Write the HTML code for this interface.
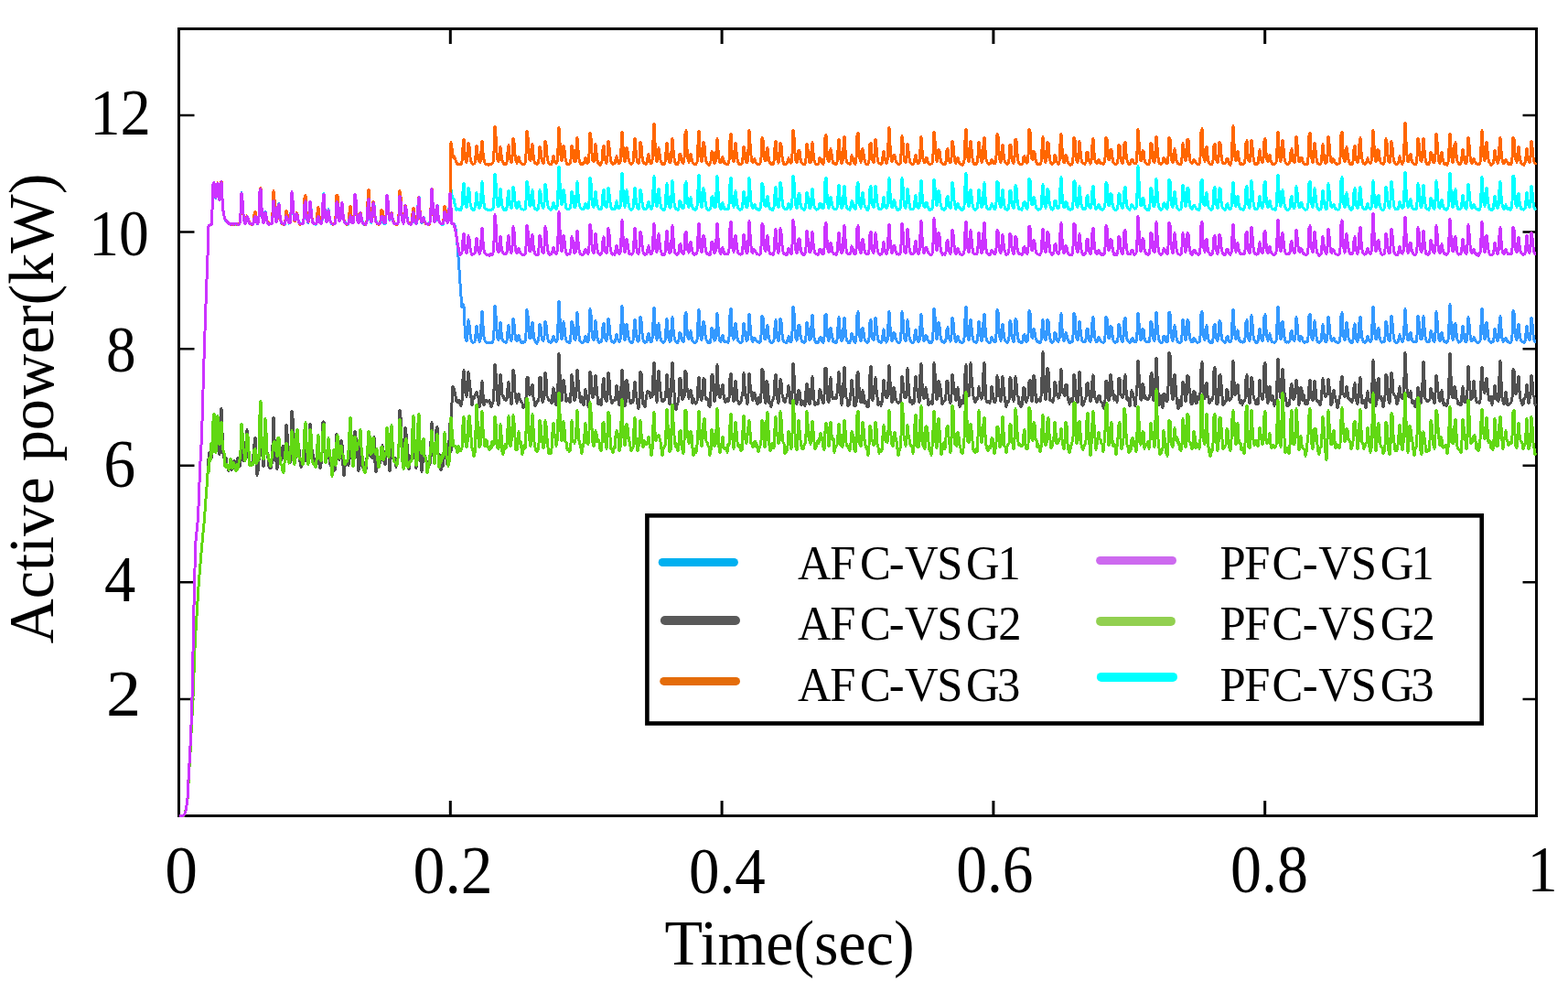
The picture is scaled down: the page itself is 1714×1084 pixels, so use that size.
<!DOCTYPE html>
<html><head><meta charset="utf-8"><style>html,body{margin:0;padding:0;background:#fff;overflow:hidden}svg{display:block}</style></head>
<body><svg width="1714" height="1084" viewBox="0 0 1714 1084">
<rect width="100%" height="100%" fill="#fff"/>
<rect x="195.5" y="31.5" width="1484.0" height="860.0" fill="none" stroke="#000" stroke-width="3"/>
<path d="M195.5 763.92H212.5M1679.5 763.92H1664.5M195.5 636.34H212.5M1679.5 636.34H1664.5M195.5 508.76H212.5M1679.5 508.76H1664.5M195.5 381.18H212.5M1679.5 381.18H1664.5M195.5 253.60H212.5M1679.5 253.60H1664.5M195.5 126.02H212.5M1679.5 126.02H1664.5" stroke="#000" stroke-width="2.5" fill="none"/>
<path d="M492.3 31.5V48.0M492.3 891.5V875.0M789.1 31.5V48.0M789.1 891.5V875.0M1085.9 31.5V48.0M1085.9 891.5V875.0M1382.7 31.5V48.0M1382.7 891.5V875.0" stroke="#000" stroke-width="3" fill="none"/>
<polyline fill="none" stroke="#3399ff" stroke-width="3" stroke-linejoin="round" shape-rendering="crispEdges" points="195.5,891.5 196.0,891.5 196.5,891.5 197.0,891.5 197.5,891.5 198.0,891.5 198.5,891.5 199.0,891.5 199.5,891.5 200.0,891.5 200.5,891.1 201.0,890.7 201.5,890.2 202.0,889.0 202.5,887.7 203.0,885.9 203.5,883.7 204.0,879.7 204.5,875.7 205.0,871.8 205.5,862.2 206.0,852.6 206.5,843.4 207.0,834.5 207.5,825.6 208.0,815.3 208.5,804.0 209.0,792.2 209.5,779.8 210.0,762.3 210.5,737.2 211.0,712.1 211.5,686.9 212.0,661.8 212.5,636.7 213.0,620.8 213.5,604.8 214.0,591.1 214.5,586.2 215.0,581.3 215.5,576.4 216.0,571.5 216.5,566.6 217.0,553.6 217.5,540.6 218.0,527.5 218.5,514.5 219.0,504.0 219.5,495.1 220.0,486.3 220.5,477.4 221.0,460.4 221.5,443.3 222.0,426.2 222.5,409.2 223.0,392.1 223.5,376.1 224.0,361.6 224.5,347.1 225.0,332.6 225.5,318.2 226.0,305.4 226.5,292.7 227.0,279.9 227.5,263.4 228.0,246.8 228.5,246.5 229.0,246.2 229.5,245.9 230.0,245.7 230.5,245.4 231.0,245.1 231.5,244.9 232.0,229.8 233.0,201.4 234.0,199.7 235.0,212.4 236.0,216.5 237.0,204.3 238.0,200.4 239.0,213.4 240.0,219.0 241.0,208.1 242.0,198.4 243.0,217.0 244.0,229.7 245.0,235.8 246.0,239.9 247.0,241.2 248.0,242.0 249.0,242.9 250.0,243.5 251.0,244.8 252.0,245.1 253.0,244.8 254.0,244.4 255.0,244.4 256.0,245.3 257.0,245.0 258.0,245.2 259.0,244.6 260.0,244.7 261.0,245.0 262.0,244.2 263.0,233.7 264.0,210.8 265.0,220.2 266.0,234.7 267.0,241.6 268.0,243.8 269.0,241.8 270.0,236.9 271.0,238.9 272.0,243.2 273.0,244.1 274.0,244.3 275.0,245.7 276.0,245.1 277.0,243.3 278.0,238.6 279.0,237.6 280.0,240.6 281.0,244.1 282.0,243.6 283.0,237.3 284.0,209.3 285.0,205.9 286.0,227.2 287.0,238.6 288.0,242.6 289.0,239.7 290.0,231.6 291.0,236.1 292.0,241.4 293.0,243.8 294.0,244.7 295.0,244.9 296.0,244.6 297.0,244.0 298.0,236.5 299.0,219.1 300.0,226.2 301.0,237.0 302.0,241.9 303.0,240.4 304.0,225.1 305.0,222.7 306.0,235.5 307.0,241.1 308.0,244.4 309.0,244.5 310.0,245.3 311.0,244.9 312.0,242.1 313.0,236.0 314.0,237.7 315.0,241.8 316.0,243.6 317.0,243.7 318.0,232.8 319.0,209.8 320.0,219.1 321.0,234.7 322.0,241.1 323.0,240.9 324.0,233.3 325.0,233.8 326.0,239.9 327.0,243.4 328.0,244.2 329.0,244.7 330.0,244.8 331.0,244.8 332.0,240.2 333.0,222.4 334.0,219.8 335.0,232.8 336.0,241.2 337.0,243.4 338.0,235.6 339.0,220.9 340.0,228.9 341.0,238.3 342.0,243.2 343.0,244.1 344.0,244.5 345.0,244.2 346.0,243.2 347.0,238.5 348.0,235.2 349.0,240.7 350.0,243.2 351.0,244.2 352.0,240.9 353.0,221.7 354.0,211.7 355.0,227.7 356.0,238.5 357.0,242.1 358.0,236.5 359.0,229.6 360.0,237.3 361.0,241.7 362.0,243.8 363.0,244.6 364.0,245.3 365.0,245.1 366.0,243.8 367.0,238.5 368.0,220.0 369.0,221.6 370.0,234.3 371.0,240.8 372.0,240.2 373.0,226.6 374.0,221.7 375.0,234.4 376.0,241.2 377.0,243.6 378.0,244.9 379.0,244.9 380.0,244.3 381.0,244.0 382.0,238.6 383.0,236.2 384.0,241.0 385.0,243.3 386.0,243.9 387.0,236.5 388.0,213.6 389.0,218.5 390.0,233.0 391.0,241.4 392.0,243.1 393.0,238.2 394.0,232.3 395.0,238.2 396.0,241.6 397.0,243.6 398.0,245.7 399.0,244.5 400.0,244.6 401.0,241.4 402.0,226.1 403.0,217.0 404.0,230.5 405.0,239.3 406.0,242.3 407.0,237.4 408.0,220.8 409.0,224.8 410.0,237.0 411.0,241.3 412.0,244.1 413.0,244.6 414.0,244.8 415.0,244.6 416.0,243.6 417.0,236.1 418.0,237.1 419.0,241.6 420.0,244.4 421.0,244.6 422.0,235.7 423.0,214.2 424.0,219.1 425.0,234.0 426.0,241.1 427.0,238.4 428.0,233.5 429.0,238.5 430.0,243.3 431.0,244.3 432.0,244.4 433.0,244.4 434.0,244.4 435.0,244.1 436.0,236.5 437.0,213.9 438.0,219.1 439.0,233.9 440.0,241.8 441.0,243.4 442.0,238.3 443.0,224.3 444.0,228.1 445.0,237.5 446.0,242.6 447.0,244.2 448.0,244.4 449.0,244.7 450.0,243.5 451.0,236.3 452.0,232.8 453.0,239.2 454.0,242.5 455.0,244.4 456.0,241.3 457.0,225.7 458.0,215.3 459.0,230.6 460.0,239.1 461.0,243.8 462.0,241.2 463.0,237.4 464.0,241.3 465.0,243.5 466.0,244.5 467.0,244.7 468.0,244.7 469.0,245.3 470.0,243.1 471.0,227.6 472.0,206.1 473.0,221.8 474.0,235.8 475.0,241.6 476.0,241.2 477.0,228.6 478.0,224.3 479.0,234.9 480.0,240.9 481.0,244.0 482.0,244.5 483.0,244.4 484.0,245.4 485.0,240.8 486.0,230.8 487.0,233.3 488.0,240.3 489.0,243.0 490.0,241.9 491.0,228.2 492.0,211.7 493.0,226.5 494.0,244.3 495.0,244.4 496.0,244.9 497.0,245.9 498.0,250.2 499.0,257.5 500.0,268.1 501.0,280.6 502.0,295.2 503.0,309.6 504.0,324.0 505.0,336.1 506.0,331.9 507.0,334.6 508.0,356.0 509.0,369.4 510.0,372.7 511.0,366.6 512.0,349.8 513.0,355.1 514.0,365.2 515.0,371.1 516.0,373.2 517.0,374.5 518.0,374.0 519.0,373.4 520.0,365.3 521.0,356.1 522.0,364.3 523.0,370.2 524.0,373.1 525.0,371.5 526.0,354.4 527.0,339.9 528.0,356.0 529.0,367.8 530.0,372.2 531.0,373.9 532.0,374.8 533.0,374.2 534.0,374.1 535.0,374.4 536.0,374.3 537.0,374.9 538.0,374.2 539.0,372.6 540.0,361.1 541.0,334.1 542.0,344.4 543.0,362.3 544.0,370.2 545.0,371.7 546.0,360.0 547.0,352.1 548.0,363.2 549.0,370.6 550.0,372.4 551.0,373.7 552.0,374.0 553.0,374.7 554.0,372.4 555.0,362.3 556.0,355.6 557.0,365.4 558.0,370.2 559.0,372.5 560.0,366.8 561.0,348.1 562.0,353.7 563.0,365.5 564.0,371.4 565.0,372.5 566.0,369.8 567.0,366.5 568.0,370.8 569.0,372.9 570.0,374.2 571.0,373.6 572.0,374.4 573.0,374.0 574.0,372.7 575.0,364.1 576.0,338.6 577.0,344.8 578.0,361.7 579.0,369.9 580.0,369.8 581.0,356.5 582.0,352.4 583.0,363.1 584.0,370.8 585.0,373.1 586.0,374.1 587.0,375.1 588.0,373.4 589.0,368.1 590.0,353.9 591.0,357.0 592.0,367.4 593.0,371.7 594.0,372.4 595.0,366.8 596.0,351.0 597.0,355.1 598.0,365.6 599.0,370.8 600.0,373.4 601.0,373.6 602.0,374.7 603.0,373.8 604.0,370.4 605.0,367.1 606.0,370.3 607.0,372.4 608.0,374.0 609.0,372.4 610.0,354.3 611.0,329.1 612.0,347.4 613.0,363.5 614.0,370.6 615.0,365.8 616.0,351.7 617.0,357.7 618.0,367.7 619.0,371.9 620.0,373.7 621.0,373.3 622.0,374.2 623.0,374.3 624.0,366.6 625.0,351.2 626.0,353.7 627.0,366.1 628.0,370.8 629.0,371.5 630.0,357.5 631.0,341.5 632.0,356.2 633.0,367.2 634.0,372.4 635.0,373.5 636.0,374.5 637.0,374.5 638.0,374.0 639.0,371.0 640.0,367.2 641.0,370.9 642.0,373.2 643.0,373.5 644.0,363.9 645.0,337.8 646.0,344.3 647.0,361.5 648.0,370.2 649.0,371.6 650.0,363.1 651.0,350.6 652.0,361.0 653.0,369.7 654.0,372.8 655.0,374.2 656.0,373.7 657.0,373.8 658.0,369.9 659.0,357.4 660.0,353.3 661.0,364.3 662.0,371.2 663.0,372.4 664.0,365.5 665.0,348.3 666.0,355.2 667.0,366.6 668.0,371.2 669.0,373.3 670.0,373.7 671.0,374.6 672.0,374.0 673.0,370.0 674.0,365.4 675.0,370.1 676.0,371.9 677.0,373.7 678.0,371.3 679.0,354.3 680.0,334.5 681.0,352.4 682.0,365.9 683.0,371.5 684.0,367.2 685.0,354.1 686.0,360.6 687.0,368.6 688.0,372.2 689.0,373.1 690.0,374.5 691.0,374.3 692.0,372.5 693.0,360.1 694.0,348.9 695.0,360.1 696.0,368.5 697.0,372.9 698.0,373.1 699.0,365.9 700.0,346.4 701.0,350.7 702.0,363.6 703.0,370.9 704.0,373.5 705.0,374.3 706.0,374.0 707.0,372.7 708.0,367.4 709.0,364.2 710.0,368.3 711.0,372.7 712.0,374.0 713.0,370.8 714.0,352.3 715.0,336.3 716.0,354.1 717.0,366.8 718.0,371.2 719.0,364.7 720.0,353.7 721.0,362.1 722.0,369.7 723.0,372.5 724.0,373.9 725.0,374.6 726.0,373.8 727.0,372.3 728.0,359.5 729.0,348.5 730.0,361.3 731.0,369.4 732.0,373.1 733.0,372.8 734.0,360.6 735.0,346.8 736.0,359.8 737.0,368.2 738.0,372.1 739.0,373.2 740.0,374.5 741.0,374.3 742.0,370.9 743.0,363.6 744.0,364.1 745.0,369.5 746.0,372.5 747.0,373.7 748.0,367.7 749.0,344.3 750.0,341.8 751.0,359.8 752.0,368.6 753.0,371.0 754.0,365.4 755.0,361.8 756.0,367.6 757.0,372.9 758.0,373.5 759.0,374.3 760.0,374.4 761.0,373.7 762.0,371.1 763.0,352.1 764.0,338.5 765.0,355.5 766.0,367.9 767.0,371.3 768.0,367.4 769.0,351.2 770.0,354.6 771.0,365.6 772.0,371.3 773.0,373.0 774.0,374.2 775.0,374.5 776.0,374.5 777.0,370.2 778.0,358.3 779.0,360.0 780.0,367.9 781.0,372.1 782.0,371.5 783.0,359.1 784.0,342.5 785.0,356.5 786.0,367.9 787.0,372.6 788.0,373.2 789.0,368.8 790.0,366.2 791.0,370.9 792.0,373.5 793.0,373.8 794.0,374.0 795.0,373.9 796.0,374.2 797.0,368.2 798.0,343.8 799.0,337.2 800.0,356.5 801.0,367.7 802.0,371.1 803.0,364.5 804.0,353.0 805.0,361.3 806.0,369.6 807.0,372.8 808.0,373.4 809.0,374.4 810.0,374.1 811.0,373.9 812.0,365.9 813.0,353.5 814.0,360.7 815.0,367.9 816.0,372.3 817.0,372.0 818.0,361.7 819.0,343.1 820.0,355.1 821.0,367.1 822.0,372.1 823.0,373.1 824.0,369.6 825.0,369.7 826.0,371.6 827.0,372.6 828.0,373.9 829.0,373.4 830.0,374.2 831.0,373.9 832.0,366.6 833.0,345.2 834.0,346.6 835.0,362.3 836.0,370.5 837.0,370.5 838.0,359.2 839.0,355.5 840.0,365.6 841.0,371.1 842.0,373.7 843.0,374.1 844.0,374.2 845.0,374.1 846.0,371.5 847.0,357.7 848.0,349.7 849.0,362.0 850.0,369.7 851.0,372.9 852.0,366.7 853.0,348.0 854.0,352.3 855.0,364.7 856.0,371.9 857.0,373.3 858.0,374.0 859.0,374.3 860.0,374.2 861.0,371.3 862.0,367.8 863.0,370.1 864.0,373.5 865.0,373.3 866.0,362.2 867.0,334.9 868.0,341.8 869.0,360.4 870.0,370.2 871.0,372.1 872.0,368.7 873.0,355.1 874.0,355.9 875.0,366.2 876.0,371.1 877.0,373.2 878.0,373.5 879.0,374.2 880.0,373.6 881.0,367.1 882.0,352.3 883.0,358.4 884.0,366.9 885.0,371.4 886.0,370.8 887.0,356.3 888.0,344.3 889.0,358.5 890.0,369.0 891.0,372.5 892.0,374.5 893.0,374.4 894.0,374.2 895.0,372.9 896.0,369.0 897.0,368.3 898.0,371.4 899.0,373.6 900.0,374.1 901.0,368.0 902.0,344.5 903.0,343.0 904.0,359.3 905.0,369.3 906.0,372.4 907.0,367.5 908.0,358.4 909.0,363.9 910.0,369.5 911.0,373.5 912.0,373.2 913.0,374.4 914.0,374.4 915.0,371.3 916.0,357.1 917.0,346.7 918.0,360.5 919.0,369.9 920.0,372.5 921.0,371.6 922.0,358.6 923.0,347.2 924.0,360.4 925.0,368.7 926.0,372.7 927.0,373.9 928.0,375.0 929.0,373.8 930.0,371.6 931.0,364.4 932.0,367.1 933.0,372.1 934.0,373.4 935.0,374.1 936.0,367.3 937.0,343.7 938.0,340.8 939.0,359.5 940.0,368.9 941.0,372.7 942.0,367.6 943.0,358.1 944.0,363.4 945.0,369.9 946.0,372.4 947.0,374.0 948.0,374.2 949.0,373.4 950.0,369.3 951.0,351.7 952.0,349.8 953.0,362.9 954.0,370.3 955.0,371.9 956.0,363.9 957.0,347.2 958.0,356.5 959.0,366.5 960.0,372.0 961.0,373.3 962.0,373.9 963.0,374.6 964.0,372.6 965.0,366.2 966.0,359.9 967.0,367.8 968.0,372.3 969.0,374.1 970.0,371.9 971.0,354.7 972.0,340.6 973.0,357.2 974.0,367.9 975.0,372.4 976.0,370.8 977.0,363.4 978.0,364.2 979.0,369.6 980.0,372.1 981.0,373.5 982.0,374.7 983.0,374.3 984.0,373.4 985.0,362.9 986.0,340.7 987.0,349.1 988.0,364.7 989.0,370.4 990.0,372.5 991.0,364.5 992.0,349.8 993.0,358.4 994.0,368.1 995.0,372.0 996.0,373.2 997.0,374.5 998.0,374.6 999.0,373.4 1000.0,364.8 1001.0,360.2 1002.0,367.3 1003.0,371.4 1004.0,373.6 1005.0,371.9 1006.0,356.4 1007.0,343.6 1008.0,358.2 1009.0,368.3 1010.0,372.4 1011.0,371.7 1012.0,366.7 1013.0,367.5 1014.0,371.2 1015.0,372.4 1016.0,374.3 1017.0,373.2 1018.0,374.4 1019.0,372.9 1020.0,362.7 1021.0,337.3 1022.0,346.2 1023.0,363.4 1024.0,370.4 1025.0,366.9 1026.0,352.0 1027.0,356.5 1028.0,367.0 1029.0,371.6 1030.0,373.4 1031.0,373.8 1032.0,374.3 1033.0,373.8 1034.0,370.6 1035.0,360.1 1036.0,357.9 1037.0,366.7 1038.0,371.2 1039.0,373.1 1040.0,366.3 1041.0,347.0 1042.0,351.7 1043.0,364.2 1044.0,371.0 1045.0,373.3 1046.0,370.3 1047.0,367.4 1048.0,370.9 1049.0,373.1 1050.0,373.8 1051.0,374.1 1052.0,374.2 1053.0,373.8 1054.0,369.1 1055.0,348.2 1056.0,335.2 1057.0,354.9 1058.0,367.8 1059.0,371.5 1060.0,364.3 1061.0,349.4 1062.0,358.1 1063.0,367.4 1064.0,372.1 1065.0,373.4 1066.0,373.5 1067.0,374.7 1068.0,373.0 1069.0,365.1 1070.0,350.9 1071.0,358.5 1072.0,368.1 1073.0,372.6 1074.0,369.8 1075.0,352.5 1076.0,342.9 1077.0,358.0 1078.0,368.7 1079.0,372.4 1080.0,373.7 1081.0,374.3 1082.0,374.2 1083.0,373.2 1084.0,368.3 1085.0,370.2 1086.0,372.2 1087.0,373.9 1088.0,373.8 1089.0,365.2 1090.0,338.8 1091.0,340.5 1092.0,359.5 1093.0,369.0 1094.0,372.2 1095.0,363.5 1096.0,354.0 1097.0,363.3 1098.0,369.9 1099.0,372.6 1100.0,373.5 1101.0,374.6 1102.0,373.3 1103.0,368.5 1104.0,350.8 1105.0,352.8 1106.0,364.7 1107.0,371.1 1108.0,373.5 1109.0,368.0 1110.0,348.8 1111.0,350.0 1112.0,363.5 1113.0,370.6 1114.0,373.4 1115.0,373.2 1116.0,374.7 1117.0,374.6 1118.0,372.8 1119.0,366.2 1120.0,365.8 1121.0,370.0 1122.0,373.5 1123.0,373.0 1124.0,364.9 1125.0,339.8 1126.0,341.9 1127.0,360.2 1128.0,368.8 1129.0,369.4 1130.0,359.6 1131.0,362.6 1132.0,369.1 1133.0,371.8 1134.0,373.9 1135.0,373.7 1136.0,374.6 1137.0,374.4 1138.0,372.4 1139.0,359.2 1140.0,349.6 1141.0,361.5 1142.0,369.4 1143.0,371.8 1144.0,367.8 1145.0,349.0 1146.0,350.9 1147.0,364.1 1148.0,370.4 1149.0,373.5 1150.0,374.4 1151.0,374.0 1152.0,372.1 1153.0,363.6 1154.0,364.0 1155.0,369.6 1156.0,372.3 1157.0,373.2 1158.0,370.7 1159.0,352.5 1160.0,342.7 1161.0,359.1 1162.0,368.5 1163.0,372.7 1164.0,370.5 1165.0,363.7 1166.0,365.7 1167.0,370.3 1168.0,373.2 1169.0,374.4 1170.0,373.8 1171.0,374.1 1172.0,373.6 1173.0,366.2 1174.0,342.2 1175.0,344.7 1176.0,361.0 1177.0,369.9 1178.0,371.7 1179.0,364.4 1180.0,350.9 1181.0,360.3 1182.0,368.3 1183.0,372.9 1184.0,373.8 1185.0,374.0 1186.0,373.8 1187.0,370.6 1188.0,359.7 1189.0,359.2 1190.0,366.5 1191.0,372.6 1192.0,373.1 1193.0,369.4 1194.0,352.5 1195.0,346.6 1196.0,361.2 1197.0,370.1 1198.0,372.8 1199.0,374.0 1200.0,371.4 1201.0,368.7 1202.0,370.9 1203.0,372.6 1204.0,373.7 1205.0,374.0 1206.0,374.3 1207.0,373.8 1208.0,366.9 1209.0,346.0 1210.0,347.5 1211.0,362.6 1212.0,369.7 1213.0,369.2 1214.0,356.5 1215.0,357.3 1216.0,366.4 1217.0,372.2 1218.0,374.0 1219.0,374.5 1220.0,373.9 1221.0,373.6 1222.0,368.9 1223.0,354.4 1224.0,356.7 1225.0,366.4 1226.0,371.8 1227.0,373.6 1228.0,368.6 1229.0,349.6 1230.0,347.1 1231.0,362.0 1232.0,370.6 1233.0,372.8 1234.0,373.7 1235.0,374.3 1236.0,373.8 1237.0,369.9 1238.0,369.8 1239.0,371.9 1240.0,373.2 1241.0,374.0 1242.0,373.0 1243.0,363.2 1244.0,342.4 1245.0,353.4 1246.0,365.9 1247.0,371.7 1248.0,370.7 1249.0,359.4 1250.0,360.4 1251.0,368.7 1252.0,372.8 1253.0,373.9 1254.0,373.8 1255.0,374.0 1256.0,373.9 1257.0,368.2 1258.0,351.5 1259.0,353.1 1260.0,364.5 1261.0,371.1 1262.0,372.1 1263.0,359.3 1264.0,341.2 1265.0,355.0 1266.0,366.3 1267.0,371.8 1268.0,373.8 1269.0,374.3 1270.0,374.5 1271.0,373.1 1272.0,367.2 1273.0,367.4 1274.0,371.5 1275.0,373.2 1276.0,373.6 1277.0,366.0 1278.0,340.9 1279.0,342.6 1280.0,359.9 1281.0,369.8 1282.0,372.2 1283.0,367.1 1284.0,355.8 1285.0,361.5 1286.0,369.2 1287.0,373.0 1288.0,374.0 1289.0,374.4 1290.0,374.3 1291.0,373.8 1292.0,366.2 1293.0,349.2 1294.0,355.5 1295.0,366.9 1296.0,371.4 1297.0,367.6 1298.0,349.8 1299.0,351.4 1300.0,364.0 1301.0,370.8 1302.0,372.9 1303.0,374.0 1304.0,373.6 1305.0,369.3 1306.0,370.0 1307.0,373.1 1308.0,373.4 1309.0,374.1 1310.0,374.1 1311.0,373.7 1312.0,367.6 1313.0,342.9 1314.0,340.5 1315.0,359.0 1316.0,368.9 1317.0,371.4 1318.0,360.8 1319.0,355.8 1320.0,364.7 1321.0,370.9 1322.0,373.2 1323.0,374.3 1324.0,373.6 1325.0,374.8 1326.0,370.2 1327.0,355.9 1328.0,354.5 1329.0,364.4 1330.0,371.0 1331.0,372.1 1332.0,367.9 1333.0,350.7 1334.0,351.9 1335.0,365.0 1336.0,371.5 1337.0,372.8 1338.0,373.7 1339.0,374.4 1340.0,372.9 1341.0,368.4 1342.0,367.4 1343.0,371.2 1344.0,373.5 1345.0,373.5 1346.0,371.3 1347.0,352.7 1348.0,337.9 1349.0,356.4 1350.0,366.6 1351.0,371.1 1352.0,364.5 1353.0,360.9 1354.0,368.0 1355.0,372.4 1356.0,372.8 1357.0,374.0 1358.0,373.7 1359.0,374.1 1360.0,373.6 1361.0,369.2 1362.0,352.1 1363.0,349.9 1364.0,362.9 1365.0,370.8 1366.0,372.2 1367.0,363.0 1368.0,344.7 1369.0,354.3 1370.0,367.3 1371.0,371.6 1372.0,372.9 1373.0,374.6 1374.0,374.6 1375.0,372.8 1376.0,366.4 1377.0,359.0 1378.0,365.6 1379.0,370.7 1380.0,372.9 1381.0,367.8 1382.0,346.4 1383.0,343.9 1384.0,360.4 1385.0,369.3 1386.0,372.2 1387.0,368.0 1388.0,364.9 1389.0,369.5 1390.0,373.0 1391.0,373.9 1392.0,374.0 1393.0,374.2 1394.0,373.9 1395.0,372.1 1396.0,354.4 1397.0,334.9 1398.0,352.2 1399.0,365.5 1400.0,370.7 1401.0,365.2 1402.0,351.3 1403.0,359.0 1404.0,368.5 1405.0,372.7 1406.0,374.1 1407.0,373.9 1408.0,374.0 1409.0,374.0 1410.0,372.3 1411.0,362.9 1412.0,361.0 1413.0,367.7 1414.0,371.9 1415.0,372.4 1416.0,365.7 1417.0,346.7 1418.0,354.0 1419.0,365.9 1420.0,371.8 1421.0,372.3 1422.0,367.5 1423.0,368.1 1424.0,372.2 1425.0,373.3 1426.0,374.2 1427.0,373.7 1428.0,374.0 1429.0,373.6 1430.0,368.0 1431.0,345.3 1432.0,343.0 1433.0,360.5 1434.0,369.5 1435.0,371.5 1436.0,364.4 1437.0,350.7 1438.0,358.7 1439.0,368.2 1440.0,372.5 1441.0,374.1 1442.0,374.4 1443.0,373.9 1444.0,372.7 1445.0,363.8 1446.0,354.8 1447.0,364.3 1448.0,370.4 1449.0,373.4 1450.0,373.3 1451.0,365.4 1452.0,346.5 1453.0,354.3 1454.0,365.9 1455.0,370.8 1456.0,372.4 1457.0,370.2 1458.0,369.6 1459.0,372.2 1460.0,373.4 1461.0,373.8 1462.0,374.5 1463.0,374.6 1464.0,373.8 1465.0,368.5 1466.0,345.1 1467.0,341.8 1468.0,360.1 1469.0,369.1 1470.0,371.6 1471.0,365.5 1472.0,352.1 1473.0,359.0 1474.0,368.9 1475.0,371.8 1476.0,374.1 1477.0,374.1 1478.0,374.5 1479.0,371.6 1480.0,357.7 1481.0,353.9 1482.0,364.4 1483.0,371.4 1484.0,373.2 1485.0,370.3 1486.0,352.1 1487.0,346.2 1488.0,360.9 1489.0,369.4 1490.0,373.2 1491.0,373.7 1492.0,374.3 1493.0,373.3 1494.0,371.0 1495.0,367.1 1496.0,370.7 1497.0,372.6 1498.0,373.6 1499.0,372.2 1500.0,354.2 1501.0,335.0 1502.0,353.1 1503.0,365.9 1504.0,371.1 1505.0,370.1 1506.0,359.7 1507.0,358.8 1508.0,367.9 1509.0,372.0 1510.0,373.7 1511.0,374.1 1512.0,373.7 1513.0,373.8 1514.0,368.0 1515.0,351.4 1516.0,355.1 1517.0,366.2 1518.0,371.4 1519.0,372.8 1520.0,364.6 1521.0,345.3 1522.0,352.7 1523.0,365.2 1524.0,371.0 1525.0,373.9 1526.0,374.2 1527.0,374.2 1528.0,373.9 1529.0,370.4 1530.0,365.8 1531.0,369.6 1532.0,371.7 1533.0,373.4 1534.0,371.6 1535.0,356.3 1536.0,337.7 1537.0,354.3 1538.0,367.0 1539.0,371.8 1540.0,371.9 1541.0,364.6 1542.0,363.3 1543.0,369.0 1544.0,372.8 1545.0,373.4 1546.0,373.7 1547.0,373.8 1548.0,373.5 1549.0,366.2 1550.0,345.4 1551.0,350.7 1552.0,364.0 1553.0,370.5 1554.0,370.9 1555.0,359.7 1556.0,345.7 1557.0,358.3 1558.0,368.2 1559.0,372.0 1560.0,373.4 1561.0,373.5 1562.0,373.9 1563.0,370.3 1564.0,361.7 1565.0,363.7 1566.0,369.1 1567.0,372.8 1568.0,373.6 1569.0,363.3 1570.0,340.8 1571.0,350.0 1572.0,363.9 1573.0,370.6 1574.0,372.6 1575.0,367.0 1576.0,363.6 1577.0,368.0 1578.0,372.1 1579.0,372.7 1580.0,374.0 1581.0,374.2 1582.0,374.1 1583.0,371.8 1584.0,353.8 1585.0,332.7 1586.0,351.3 1587.0,365.5 1588.0,371.3 1589.0,369.6 1590.0,354.0 1591.0,353.5 1592.0,364.3 1593.0,371.0 1594.0,372.9 1595.0,374.1 1596.0,373.7 1597.0,372.9 1598.0,365.1 1599.0,356.1 1600.0,364.5 1601.0,370.5 1602.0,374.0 1603.0,373.2 1604.0,364.7 1605.0,346.7 1606.0,353.7 1607.0,365.8 1608.0,372.2 1609.0,372.8 1610.0,371.4 1611.0,368.9 1612.0,370.6 1613.0,372.8 1614.0,373.6 1615.0,374.1 1616.0,374.4 1617.0,373.8 1618.0,372.2 1619.0,355.3 1620.0,336.9 1621.0,353.8 1622.0,366.0 1623.0,371.1 1624.0,363.4 1625.0,352.4 1626.0,360.4 1627.0,369.1 1628.0,372.3 1629.0,373.5 1630.0,374.8 1631.0,373.9 1632.0,373.8 1633.0,369.1 1634.0,359.3 1635.0,364.4 1636.0,370.2 1637.0,372.3 1638.0,370.3 1639.0,354.5 1640.0,345.8 1641.0,359.5 1642.0,369.4 1643.0,373.3 1644.0,372.8 1645.0,370.5 1646.0,369.0 1647.0,370.9 1648.0,373.5 1649.0,373.6 1650.0,374.3 1651.0,374.7 1652.0,373.3 1653.0,366.0 1654.0,339.8 1655.0,341.9 1656.0,359.3 1657.0,368.9 1658.0,371.4 1659.0,363.2 1660.0,354.3 1661.0,364.3 1662.0,370.0 1663.0,372.5 1664.0,373.9 1665.0,373.8 1666.0,374.6 1667.0,372.8 1668.0,364.3 1669.0,356.0 1670.0,363.6 1671.0,370.2 1672.0,372.0 1673.0,365.1 1674.0,347.5 1675.0,354.0 1676.0,366.1 1677.0,371.4 1678.0,374.0 1679.0,373.9"/>
<polyline fill="none" stroke="#00ffff" stroke-width="3" stroke-linejoin="round" shape-rendering="crispEdges" points="195.5,891.5 196.0,891.5 196.5,891.5 197.0,891.5 197.5,891.5 198.0,891.5 198.5,891.5 199.0,891.5 199.5,891.5 200.0,891.5 200.5,891.1 201.0,890.7 201.5,890.2 202.0,889.0 202.5,887.7 203.0,885.9 203.5,883.7 204.0,879.7 204.5,875.7 205.0,871.8 205.5,862.2 206.0,852.6 206.5,843.4 207.0,834.5 207.5,825.6 208.0,815.3 208.5,804.0 209.0,792.2 209.5,779.8 210.0,762.3 210.5,737.2 211.0,712.1 211.5,686.9 212.0,661.8 212.5,636.7 213.0,620.8 213.5,604.8 214.0,591.1 214.5,586.2 215.0,581.3 215.5,576.4 216.0,571.5 216.5,566.6 217.0,553.6 217.5,540.6 218.0,527.5 218.5,514.5 219.0,504.0 219.5,495.1 220.0,486.3 220.5,477.4 221.0,460.4 221.5,443.3 222.0,426.2 222.5,409.2 223.0,392.1 223.5,376.1 224.0,361.6 224.5,347.1 225.0,332.6 225.5,318.2 226.0,305.4 226.5,292.7 227.0,279.9 227.5,263.4 228.0,246.8 228.5,246.5 229.0,246.2 229.5,245.9 230.0,245.7 230.5,245.4 231.0,245.1 231.5,244.9 232.0,229.8 233.0,201.2 234.0,199.5 235.0,212.2 236.0,215.5 237.0,204.2 238.0,201.1 239.0,213.0 240.0,218.9 241.0,208.3 242.0,197.9 243.0,216.6 244.0,230.1 245.0,235.7 246.0,239.4 247.0,240.5 248.0,242.0 249.0,242.4 250.0,244.2 251.0,244.4 252.0,244.6 253.0,245.3 254.0,244.8 255.0,244.8 256.0,244.6 257.0,244.3 258.0,245.8 259.0,244.6 260.0,244.8 261.0,244.5 262.0,243.8 263.0,234.1 264.0,211.4 265.0,220.3 266.0,234.2 267.0,241.9 268.0,243.7 269.0,242.1 270.0,237.4 271.0,238.9 272.0,242.5 273.0,243.6 274.0,244.8 275.0,245.4 276.0,245.1 277.0,243.4 278.0,238.3 279.0,236.7 280.0,240.9 281.0,243.9 282.0,243.8 283.0,236.9 284.0,209.9 285.0,206.2 286.0,226.7 287.0,239.1 288.0,242.9 289.0,239.7 290.0,232.1 291.0,236.5 292.0,241.3 293.0,244.2 294.0,245.3 295.0,244.9 296.0,244.9 297.0,243.9 298.0,235.7 299.0,219.4 300.0,225.7 301.0,236.5 302.0,241.9 303.0,239.7 304.0,225.4 305.0,223.5 306.0,235.4 307.0,241.7 308.0,243.6 309.0,244.4 310.0,244.9 311.0,245.5 312.0,241.7 313.0,235.6 314.0,238.6 315.0,242.1 316.0,244.1 317.0,243.5 318.0,234.3 319.0,210.8 320.0,218.7 321.0,234.8 322.0,241.7 323.0,241.4 324.0,233.3 325.0,233.6 326.0,240.2 327.0,243.0 328.0,244.3 329.0,245.0 330.0,244.2 331.0,244.2 332.0,240.2 333.0,222.5 334.0,220.8 335.0,234.5 336.0,241.1 337.0,242.5 338.0,236.6 339.0,220.8 340.0,227.9 341.0,237.8 342.0,243.2 343.0,244.6 344.0,244.2 345.0,245.3 346.0,243.9 347.0,239.2 348.0,235.9 349.0,240.4 350.0,242.6 351.0,244.7 352.0,241.7 353.0,222.2 354.0,211.4 355.0,228.5 356.0,237.9 357.0,242.4 358.0,236.8 359.0,228.8 360.0,235.6 361.0,241.6 362.0,243.6 363.0,245.1 364.0,245.2 365.0,244.7 366.0,244.2 367.0,238.5 368.0,220.0 369.0,221.2 370.0,234.6 371.0,241.4 372.0,240.6 373.0,226.9 374.0,222.1 375.0,234.3 376.0,240.8 377.0,242.8 378.0,244.3 379.0,244.0 380.0,245.1 381.0,244.0 382.0,238.9 383.0,235.5 384.0,239.6 385.0,242.9 386.0,243.5 387.0,235.5 388.0,213.3 389.0,218.1 390.0,233.4 391.0,241.1 392.0,243.4 393.0,238.3 394.0,232.4 395.0,238.3 396.0,241.7 397.0,244.1 398.0,244.4 399.0,245.2 400.0,244.9 401.0,242.0 402.0,226.5 403.0,217.2 404.0,231.3 405.0,240.4 406.0,243.2 407.0,237.7 408.0,221.1 409.0,224.3 410.0,237.4 411.0,241.7 412.0,243.8 413.0,244.4 414.0,245.1 415.0,245.0 416.0,243.4 417.0,235.9 418.0,236.7 419.0,241.4 420.0,242.9 421.0,244.2 422.0,235.9 423.0,213.7 424.0,219.1 425.0,233.7 426.0,240.4 427.0,237.9 428.0,233.4 429.0,238.8 430.0,241.9 431.0,243.9 432.0,244.7 433.0,245.0 434.0,244.2 435.0,244.3 436.0,236.4 437.0,213.8 438.0,219.6 439.0,234.1 440.0,241.2 441.0,243.9 442.0,238.7 443.0,224.4 444.0,227.7 445.0,237.7 446.0,241.8 447.0,244.2 448.0,244.8 449.0,244.6 450.0,243.6 451.0,237.3 452.0,231.9 453.0,239.4 454.0,243.4 455.0,243.9 456.0,241.6 457.0,224.5 458.0,215.3 459.0,230.0 460.0,239.7 461.0,242.6 462.0,240.9 463.0,237.6 464.0,241.3 465.0,243.6 466.0,244.4 467.0,244.7 468.0,244.6 469.0,244.4 470.0,243.0 471.0,228.2 472.0,206.6 473.0,220.8 474.0,235.6 475.0,242.0 476.0,241.7 477.0,228.2 478.0,224.9 479.0,235.1 480.0,241.6 481.0,243.4 482.0,244.8 483.0,245.2 484.0,245.4 485.0,241.1 486.0,230.3 487.0,233.1 488.0,240.1 489.0,242.7 490.0,242.6 491.0,227.7 492.0,212.0 493.0,207.4 494.0,213.1 495.0,217.0 496.0,217.5 497.0,222.5 498.0,226.2 499.0,229.2 500.0,229.1 501.0,228.3 502.0,229.2 503.0,228.9 504.0,229.2 505.0,225.3 506.0,209.1 507.0,200.2 508.0,214.5 509.0,224.2 510.0,226.7 511.0,222.6 512.0,205.3 513.0,209.1 514.0,221.7 515.0,226.1 516.0,228.6 517.0,229.1 518.0,229.4 519.0,227.2 520.0,220.9 521.0,210.6 522.0,219.8 523.0,224.9 524.0,227.8 525.0,226.4 526.0,211.6 527.0,198.8 528.0,213.1 529.0,222.5 530.0,228.0 531.0,228.4 532.0,228.9 533.0,229.2 534.0,229.0 535.0,229.0 536.0,229.3 537.0,229.2 538.0,228.8 539.0,228.1 540.0,216.0 541.0,190.4 542.0,200.0 543.0,216.9 544.0,224.9 545.0,225.9 546.0,215.5 547.0,206.4 548.0,217.4 549.0,224.9 550.0,227.6 551.0,229.2 552.0,228.2 553.0,229.4 554.0,226.8 555.0,214.8 556.0,208.3 557.0,218.8 558.0,225.3 559.0,227.9 560.0,221.5 561.0,204.5 562.0,209.0 563.0,220.4 564.0,225.7 565.0,227.4 566.0,224.5 567.0,220.3 568.0,224.2 569.0,227.1 570.0,228.5 571.0,228.7 572.0,229.0 573.0,229.1 574.0,228.6 575.0,219.5 576.0,198.1 577.0,203.0 578.0,218.0 579.0,225.1 580.0,225.1 581.0,212.4 582.0,207.7 583.0,218.3 584.0,226.2 585.0,228.2 586.0,229.0 587.0,229.4 588.0,228.7 589.0,223.0 590.0,207.8 591.0,210.8 592.0,222.0 593.0,225.9 594.0,227.4 595.0,221.0 596.0,201.6 597.0,206.1 598.0,219.1 599.0,225.1 600.0,227.6 601.0,228.4 602.0,229.3 603.0,228.5 604.0,224.9 605.0,221.3 606.0,224.7 607.0,227.4 608.0,228.6 609.0,226.6 610.0,208.4 611.0,181.9 612.0,200.1 613.0,218.2 614.0,224.1 615.0,220.7 616.0,207.0 617.0,212.4 618.0,222.1 619.0,227.5 620.0,228.5 621.0,228.3 622.0,228.8 623.0,227.9 624.0,223.6 625.0,209.5 626.0,212.9 627.0,222.0 628.0,226.9 629.0,226.7 630.0,213.1 631.0,198.7 632.0,212.2 633.0,222.2 634.0,226.2 635.0,227.8 636.0,228.5 637.0,229.0 638.0,228.5 639.0,225.3 640.0,222.4 641.0,226.0 642.0,227.5 643.0,227.9 644.0,220.0 645.0,194.3 646.0,200.1 647.0,216.5 648.0,224.8 649.0,226.1 650.0,218.2 651.0,209.0 652.0,218.4 653.0,224.8 654.0,227.1 655.0,228.6 656.0,228.8 657.0,228.6 658.0,225.7 659.0,211.7 660.0,207.2 661.0,218.6 662.0,225.8 663.0,226.6 664.0,221.5 665.0,205.5 666.0,212.2 667.0,221.5 668.0,226.6 669.0,228.2 670.0,228.0 671.0,228.7 672.0,228.6 673.0,224.3 674.0,219.8 675.0,224.1 676.0,227.3 677.0,228.0 678.0,226.5 679.0,208.5 680.0,188.9 681.0,207.1 682.0,220.7 683.0,226.2 684.0,221.7 685.0,207.7 686.0,213.8 687.0,222.4 688.0,226.9 689.0,228.9 690.0,229.3 691.0,228.6 692.0,227.6 693.0,216.8 694.0,205.2 695.0,216.3 696.0,223.8 697.0,227.5 698.0,228.7 699.0,222.6 700.0,207.2 701.0,211.3 702.0,221.4 703.0,226.7 704.0,228.5 705.0,228.7 706.0,228.4 707.0,228.0 708.0,222.9 709.0,220.1 710.0,224.4 711.0,227.1 712.0,228.5 713.0,226.4 714.0,207.6 715.0,192.8 716.0,210.6 717.0,221.5 718.0,225.9 719.0,218.6 720.0,206.5 721.0,215.0 722.0,223.3 723.0,227.8 724.0,228.6 725.0,229.7 726.0,229.4 727.0,226.9 728.0,212.3 729.0,200.8 730.0,214.2 731.0,223.8 732.0,227.1 733.0,227.1 734.0,212.8 735.0,197.6 736.0,211.3 737.0,221.8 738.0,226.6 739.0,228.1 740.0,228.6 741.0,229.8 742.0,226.9 743.0,219.4 744.0,220.2 745.0,225.4 746.0,227.5 747.0,227.8 748.0,223.2 749.0,201.2 750.0,198.9 751.0,215.1 752.0,223.6 753.0,226.3 754.0,219.8 755.0,215.8 756.0,223.4 757.0,226.8 758.0,228.5 759.0,228.5 760.0,229.2 761.0,228.9 762.0,225.5 763.0,206.7 764.0,191.2 765.0,209.4 766.0,222.0 767.0,226.8 768.0,221.6 769.0,205.6 770.0,210.4 771.0,220.1 772.0,226.1 773.0,228.9 774.0,229.5 775.0,229.4 776.0,228.3 777.0,225.9 778.0,214.9 779.0,214.7 780.0,223.1 781.0,226.8 782.0,226.9 783.0,210.5 784.0,192.6 785.0,209.0 786.0,221.9 787.0,226.5 788.0,228.9 789.0,224.2 790.0,221.7 791.0,225.3 792.0,228.5 793.0,228.3 794.0,228.7 795.0,228.6 796.0,229.0 797.0,223.1 798.0,200.6 799.0,194.0 800.0,212.5 801.0,223.2 802.0,226.1 803.0,219.6 804.0,208.7 805.0,217.3 806.0,224.4 807.0,228.0 808.0,228.7 809.0,229.3 810.0,229.0 811.0,227.9 812.0,221.8 813.0,209.0 814.0,215.4 815.0,224.1 816.0,226.5 817.0,226.5 818.0,214.1 819.0,194.4 820.0,208.4 821.0,220.7 822.0,226.3 823.0,227.7 824.0,224.3 825.0,223.5 826.0,226.9 827.0,228.6 828.0,228.4 829.0,229.7 830.0,229.1 831.0,228.0 832.0,221.7 833.0,200.4 834.0,202.9 835.0,217.0 836.0,224.7 837.0,225.7 838.0,216.9 839.0,214.3 840.0,221.4 841.0,226.8 842.0,228.8 843.0,228.4 844.0,229.5 845.0,229.2 846.0,226.1 847.0,212.2 848.0,204.5 849.0,216.3 850.0,225.3 851.0,227.0 852.0,220.4 853.0,199.2 854.0,203.7 855.0,218.2 856.0,225.5 857.0,227.2 858.0,229.0 859.0,228.2 860.0,228.6 861.0,226.3 862.0,222.7 863.0,224.8 864.0,228.2 865.0,226.9 866.0,217.4 867.0,192.4 868.0,198.5 869.0,216.0 870.0,224.9 871.0,227.5 872.0,224.4 873.0,211.7 874.0,211.7 875.0,222.0 876.0,226.9 877.0,227.9 878.0,228.2 879.0,229.2 880.0,228.3 881.0,222.5 882.0,209.9 883.0,214.5 884.0,222.8 885.0,227.5 886.0,227.1 887.0,216.1 888.0,206.1 889.0,217.0 890.0,224.8 891.0,227.6 892.0,228.1 893.0,229.1 894.0,228.7 895.0,227.7 896.0,222.6 897.0,222.6 898.0,226.8 899.0,227.8 900.0,228.0 901.0,222.1 902.0,197.8 903.0,194.3 904.0,212.1 905.0,223.7 906.0,227.3 907.0,223.1 908.0,215.2 909.0,220.1 910.0,225.1 911.0,227.3 912.0,228.5 913.0,228.9 914.0,228.8 915.0,227.2 916.0,214.2 917.0,202.0 918.0,215.5 919.0,224.0 920.0,227.5 921.0,226.7 922.0,212.9 923.0,203.0 924.0,214.8 925.0,224.1 926.0,227.3 927.0,228.2 928.0,228.8 929.0,229.2 930.0,225.7 931.0,219.7 932.0,221.4 933.0,226.5 934.0,227.3 935.0,228.7 936.0,223.4 937.0,203.0 938.0,199.7 939.0,215.3 940.0,224.5 941.0,227.1 942.0,221.3 943.0,210.1 944.0,217.0 945.0,223.7 946.0,227.0 947.0,227.5 948.0,229.2 949.0,229.4 950.0,223.8 951.0,205.8 952.0,203.7 953.0,217.3 954.0,224.9 955.0,227.0 956.0,219.0 957.0,203.5 958.0,212.3 959.0,221.8 960.0,226.2 961.0,228.4 962.0,228.3 963.0,228.7 964.0,228.0 965.0,221.7 966.0,215.5 967.0,222.8 968.0,227.0 969.0,227.7 970.0,225.9 971.0,209.3 972.0,194.7 973.0,211.1 974.0,222.9 975.0,227.0 976.0,226.1 977.0,218.8 978.0,220.0 979.0,224.9 980.0,227.5 981.0,229.2 982.0,229.5 983.0,228.5 984.0,228.2 985.0,218.4 986.0,194.8 987.0,204.1 988.0,219.4 989.0,225.9 990.0,227.2 991.0,219.5 992.0,206.1 993.0,213.3 994.0,222.4 995.0,228.2 996.0,228.5 997.0,228.6 998.0,228.9 999.0,227.4 1000.0,219.1 1001.0,213.6 1002.0,221.6 1003.0,226.7 1004.0,227.9 1005.0,225.9 1006.0,210.5 1007.0,196.9 1008.0,212.4 1009.0,222.9 1010.0,226.0 1011.0,226.6 1012.0,221.5 1013.0,221.6 1014.0,225.4 1015.0,227.9 1016.0,229.3 1017.0,228.8 1018.0,229.1 1019.0,228.3 1020.0,217.8 1021.0,196.1 1022.0,204.6 1023.0,218.4 1024.0,225.0 1025.0,221.7 1026.0,208.3 1027.0,211.6 1028.0,221.7 1029.0,225.8 1030.0,228.5 1031.0,228.5 1032.0,229.4 1033.0,228.4 1034.0,226.3 1035.0,216.3 1036.0,214.5 1037.0,222.3 1038.0,226.8 1039.0,227.9 1040.0,220.4 1041.0,198.9 1042.0,204.4 1043.0,218.9 1044.0,225.2 1045.0,228.2 1046.0,225.6 1047.0,222.2 1048.0,225.5 1049.0,227.1 1050.0,227.6 1051.0,229.2 1052.0,229.3 1053.0,229.0 1054.0,224.8 1055.0,202.9 1056.0,189.4 1057.0,209.2 1058.0,221.4 1059.0,226.1 1060.0,220.3 1061.0,207.5 1062.0,214.1 1063.0,222.9 1064.0,227.0 1065.0,228.5 1066.0,229.2 1067.0,228.4 1068.0,227.7 1069.0,220.9 1070.0,207.5 1071.0,214.6 1072.0,223.2 1073.0,226.4 1074.0,225.1 1075.0,209.1 1076.0,199.7 1077.0,214.7 1078.0,224.1 1079.0,227.6 1080.0,228.9 1081.0,229.0 1082.0,228.5 1083.0,226.9 1084.0,222.8 1085.0,224.4 1086.0,227.1 1087.0,228.3 1088.0,228.2 1089.0,221.2 1090.0,198.1 1091.0,199.2 1092.0,215.2 1093.0,224.2 1094.0,226.8 1095.0,218.5 1096.0,206.9 1097.0,216.9 1098.0,225.3 1099.0,228.4 1100.0,228.8 1101.0,229.3 1102.0,228.5 1103.0,223.2 1104.0,208.1 1105.0,208.7 1106.0,219.5 1107.0,225.8 1108.0,227.9 1109.0,222.9 1110.0,202.7 1111.0,204.8 1112.0,217.9 1113.0,224.7 1114.0,228.3 1115.0,228.0 1116.0,228.8 1117.0,229.1 1118.0,226.3 1119.0,221.6 1120.0,220.5 1121.0,226.0 1122.0,227.6 1123.0,228.3 1124.0,220.8 1125.0,195.2 1126.0,196.3 1127.0,215.0 1128.0,223.6 1129.0,223.6 1130.0,215.4 1131.0,218.0 1132.0,224.0 1133.0,227.7 1134.0,228.4 1135.0,229.2 1136.0,228.5 1137.0,228.9 1138.0,227.2 1139.0,213.0 1140.0,201.7 1141.0,214.4 1142.0,223.6 1143.0,227.2 1144.0,222.7 1145.0,205.9 1146.0,208.1 1147.0,219.9 1148.0,225.1 1149.0,227.7 1150.0,229.1 1151.0,228.9 1152.0,226.0 1153.0,219.2 1154.0,219.1 1155.0,225.2 1156.0,227.7 1157.0,228.0 1158.0,223.8 1159.0,205.1 1160.0,193.8 1161.0,212.2 1162.0,222.8 1163.0,226.8 1164.0,226.9 1165.0,220.3 1166.0,221.2 1167.0,225.7 1168.0,228.3 1169.0,228.5 1170.0,229.2 1171.0,228.8 1172.0,229.0 1173.0,221.5 1174.0,197.9 1175.0,199.2 1176.0,215.3 1177.0,225.2 1178.0,226.1 1179.0,217.7 1180.0,203.7 1181.0,214.2 1182.0,223.4 1183.0,226.3 1184.0,228.4 1185.0,228.5 1186.0,228.3 1187.0,226.1 1188.0,215.4 1189.0,213.7 1190.0,222.6 1191.0,226.4 1192.0,227.7 1193.0,224.3 1194.0,208.2 1195.0,203.3 1196.0,217.3 1197.0,225.3 1198.0,228.3 1199.0,227.9 1200.0,226.3 1201.0,223.3 1202.0,225.7 1203.0,228.4 1204.0,228.3 1205.0,229.4 1206.0,228.7 1207.0,227.3 1208.0,222.3 1209.0,199.8 1210.0,200.7 1211.0,217.5 1212.0,225.0 1213.0,224.0 1214.0,211.6 1215.0,212.5 1216.0,222.0 1217.0,226.5 1218.0,228.8 1219.0,229.2 1220.0,229.7 1221.0,228.5 1222.0,224.0 1223.0,211.7 1224.0,212.5 1225.0,221.5 1226.0,226.3 1227.0,227.8 1228.0,223.7 1229.0,207.6 1230.0,204.4 1231.0,218.0 1232.0,225.3 1233.0,227.9 1234.0,228.1 1235.0,229.1 1236.0,227.3 1237.0,223.5 1238.0,224.0 1239.0,226.5 1240.0,227.8 1241.0,228.1 1242.0,227.1 1243.0,211.2 1244.0,181.6 1245.0,197.7 1246.0,216.7 1247.0,224.6 1248.0,224.7 1249.0,216.4 1250.0,216.7 1251.0,223.9 1252.0,227.4 1253.0,228.6 1254.0,229.3 1255.0,228.9 1256.0,229.4 1257.0,222.9 1258.0,205.1 1259.0,206.8 1260.0,219.7 1261.0,225.8 1262.0,225.6 1263.0,214.3 1264.0,195.6 1265.0,208.8 1266.0,221.7 1267.0,226.6 1268.0,228.2 1269.0,229.1 1270.0,228.4 1271.0,227.4 1272.0,222.0 1273.0,221.9 1274.0,226.3 1275.0,228.1 1276.0,228.3 1277.0,220.7 1278.0,196.0 1279.0,198.3 1280.0,215.0 1281.0,224.5 1282.0,226.2 1283.0,220.5 1284.0,209.5 1285.0,216.0 1286.0,224.1 1287.0,227.3 1288.0,228.5 1289.0,229.2 1290.0,229.1 1291.0,228.3 1292.0,219.9 1293.0,202.4 1294.0,208.9 1295.0,221.0 1296.0,225.5 1297.0,221.9 1298.0,205.0 1299.0,206.0 1300.0,219.2 1301.0,225.6 1302.0,227.5 1303.0,228.4 1304.0,227.3 1305.0,224.1 1306.0,225.1 1307.0,227.1 1308.0,228.4 1309.0,228.5 1310.0,229.6 1311.0,229.3 1312.0,222.6 1313.0,198.3 1314.0,196.1 1315.0,214.1 1316.0,223.5 1317.0,225.0 1318.0,216.4 1319.0,210.6 1320.0,219.2 1321.0,226.1 1322.0,227.5 1323.0,228.5 1324.0,229.5 1325.0,228.6 1326.0,223.8 1327.0,206.7 1328.0,204.5 1329.0,217.1 1330.0,225.0 1331.0,227.9 1332.0,222.6 1333.0,205.7 1334.0,206.4 1335.0,219.8 1336.0,225.9 1337.0,227.8 1338.0,228.1 1339.0,229.9 1340.0,227.5 1341.0,223.0 1342.0,222.7 1343.0,226.0 1344.0,228.3 1345.0,228.6 1346.0,226.5 1347.0,211.2 1348.0,198.9 1349.0,213.5 1350.0,223.1 1351.0,225.4 1352.0,219.0 1353.0,214.1 1354.0,222.2 1355.0,226.9 1356.0,228.1 1357.0,228.7 1358.0,228.6 1359.0,229.2 1360.0,228.1 1361.0,223.8 1362.0,205.9 1363.0,203.8 1364.0,217.9 1365.0,224.9 1366.0,227.2 1367.0,217.0 1368.0,197.6 1369.0,208.1 1370.0,220.9 1371.0,225.9 1372.0,228.5 1373.0,228.7 1374.0,228.9 1375.0,227.4 1376.0,221.4 1377.0,213.9 1378.0,220.1 1379.0,225.9 1380.0,227.1 1381.0,222.7 1382.0,201.3 1383.0,198.1 1384.0,214.9 1385.0,224.2 1386.0,226.8 1387.0,224.0 1388.0,219.0 1389.0,223.9 1390.0,226.9 1391.0,228.7 1392.0,228.6 1393.0,228.1 1394.0,229.5 1395.0,226.0 1396.0,210.5 1397.0,190.9 1398.0,208.2 1399.0,221.6 1400.0,225.4 1401.0,220.4 1402.0,207.7 1403.0,215.2 1404.0,223.2 1405.0,227.0 1406.0,228.3 1407.0,229.3 1408.0,229.2 1409.0,228.9 1410.0,227.0 1411.0,217.0 1412.0,214.0 1413.0,222.3 1414.0,227.2 1415.0,227.5 1416.0,220.9 1417.0,203.7 1418.0,210.4 1419.0,221.8 1420.0,226.0 1421.0,226.8 1422.0,221.4 1423.0,221.8 1424.0,226.1 1425.0,227.8 1426.0,228.7 1427.0,229.3 1428.0,229.1 1429.0,228.4 1430.0,222.1 1431.0,200.3 1432.0,198.3 1433.0,215.3 1434.0,223.8 1435.0,226.5 1436.0,219.8 1437.0,205.7 1438.0,213.2 1439.0,222.3 1440.0,226.9 1441.0,228.3 1442.0,229.2 1443.0,229.1 1444.0,227.6 1445.0,219.2 1446.0,208.5 1447.0,217.8 1448.0,224.1 1449.0,228.2 1450.0,228.5 1451.0,219.8 1452.0,200.8 1453.0,207.9 1454.0,220.3 1455.0,225.9 1456.0,226.7 1457.0,224.1 1458.0,223.7 1459.0,226.5 1460.0,228.1 1461.0,228.9 1462.0,229.0 1463.0,229.0 1464.0,228.4 1465.0,222.3 1466.0,196.6 1467.0,193.9 1468.0,212.7 1469.0,223.4 1470.0,226.5 1471.0,221.8 1472.0,210.7 1473.0,216.3 1474.0,224.7 1475.0,227.0 1476.0,228.1 1477.0,229.4 1478.0,228.5 1479.0,225.5 1480.0,209.9 1481.0,205.8 1482.0,218.6 1483.0,225.4 1484.0,227.4 1485.0,225.0 1486.0,209.6 1487.0,204.5 1488.0,217.3 1489.0,224.9 1490.0,227.9 1491.0,228.7 1492.0,228.9 1493.0,228.4 1494.0,225.6 1495.0,222.2 1496.0,226.0 1497.0,227.6 1498.0,228.7 1499.0,227.1 1500.0,212.9 1501.0,197.8 1502.0,211.7 1503.0,222.5 1504.0,226.4 1505.0,225.5 1506.0,214.4 1507.0,213.4 1508.0,222.0 1509.0,226.8 1510.0,228.3 1511.0,229.5 1512.0,229.2 1513.0,228.5 1514.0,221.9 1515.0,204.4 1516.0,208.6 1517.0,220.6 1518.0,225.7 1519.0,227.3 1520.0,219.2 1521.0,198.4 1522.0,206.3 1523.0,219.0 1524.0,226.0 1525.0,228.1 1526.0,228.6 1527.0,228.5 1528.0,228.5 1529.0,225.5 1530.0,220.4 1531.0,222.9 1532.0,227.0 1533.0,227.3 1534.0,227.0 1535.0,208.6 1536.0,188.0 1537.0,206.9 1538.0,220.5 1539.0,226.3 1540.0,226.0 1541.0,219.0 1542.0,217.6 1543.0,224.3 1544.0,227.7 1545.0,228.2 1546.0,228.5 1547.0,228.8 1548.0,228.7 1549.0,221.6 1550.0,200.8 1551.0,205.4 1552.0,218.4 1553.0,226.3 1554.0,226.5 1555.0,214.3 1556.0,201.9 1557.0,214.6 1558.0,222.9 1559.0,227.7 1560.0,228.5 1561.0,228.6 1562.0,229.1 1563.0,225.9 1564.0,216.4 1565.0,217.6 1566.0,224.2 1567.0,227.4 1568.0,228.2 1569.0,218.3 1570.0,197.8 1571.0,206.2 1572.0,219.7 1573.0,226.7 1574.0,227.3 1575.0,222.6 1576.0,218.1 1577.0,222.9 1578.0,226.3 1579.0,228.9 1580.0,228.6 1581.0,229.3 1582.0,229.0 1583.0,226.6 1584.0,209.1 1585.0,188.9 1586.0,206.9 1587.0,220.5 1588.0,227.0 1589.0,224.7 1590.0,209.1 1591.0,206.9 1592.0,218.9 1593.0,225.4 1594.0,228.8 1595.0,228.9 1596.0,228.5 1597.0,228.0 1598.0,221.0 1599.0,213.2 1600.0,220.5 1601.0,226.2 1602.0,227.8 1603.0,228.3 1604.0,219.6 1605.0,201.2 1606.0,208.8 1607.0,220.3 1608.0,226.1 1609.0,228.0 1610.0,226.0 1611.0,223.1 1612.0,225.3 1613.0,227.6 1614.0,228.9 1615.0,228.7 1616.0,229.4 1617.0,229.3 1618.0,227.0 1619.0,210.8 1620.0,193.6 1621.0,210.0 1622.0,222.3 1623.0,225.2 1624.0,217.6 1625.0,205.1 1626.0,214.6 1627.0,223.2 1628.0,228.2 1629.0,229.0 1630.0,229.2 1631.0,228.9 1632.0,229.1 1633.0,222.6 1634.0,214.3 1635.0,219.3 1636.0,225.5 1637.0,227.5 1638.0,225.3 1639.0,207.4 1640.0,198.6 1641.0,213.6 1642.0,223.0 1643.0,226.9 1644.0,228.2 1645.0,226.6 1646.0,223.9 1647.0,226.2 1648.0,228.4 1649.0,228.4 1650.0,227.9 1651.0,229.2 1652.0,228.5 1653.0,219.9 1654.0,191.9 1655.0,193.6 1656.0,213.2 1657.0,223.7 1658.0,226.1 1659.0,218.6 1660.0,211.4 1661.0,219.9 1662.0,225.3 1663.0,228.7 1664.0,228.6 1665.0,229.1 1666.0,228.9 1667.0,227.5 1668.0,219.1 1669.0,210.2 1670.0,218.2 1671.0,225.2 1672.0,226.7 1673.0,220.4 1674.0,203.4 1675.0,210.2 1676.0,221.4 1677.0,226.5 1678.0,228.7 1679.0,229.5"/>
<polyline fill="none" stroke="#505050" stroke-width="3" stroke-linejoin="round" shape-rendering="crispEdges" points="195.5,891.5 196.0,891.5 196.5,891.5 197.0,891.5 197.5,891.5 198.0,891.5 198.5,891.5 199.0,891.5 199.5,891.5 200.0,891.5 200.5,891.5 201.0,890.7 201.5,889.8 202.0,889.0 202.5,887.3 203.0,885.6 203.5,883.9 204.0,880.3 204.5,876.7 205.0,873.2 205.5,866.0 206.0,856.5 206.5,846.9 207.0,838.6 207.5,830.3 208.0,822.1 208.5,811.7 209.0,801.4 209.5,791.7 210.0,782.6 210.5,773.5 211.0,761.8 211.5,748.5 212.0,735.1 212.5,721.8 213.0,708.4 213.5,697.2 214.0,689.2 214.5,681.3 215.0,673.3 215.5,665.4 216.0,657.4 216.5,649.4 217.0,641.5 217.5,634.3 218.0,628.3 218.5,622.4 219.0,616.4 219.5,610.4 220.0,604.4 220.5,598.5 221.0,593.2 221.5,587.8 222.0,582.5 222.5,577.2 223.0,571.9 223.5,566.6 224.0,559.6 224.5,552.7 225.0,545.7 225.5,538.7 226.0,531.8 226.5,524.8 227.0,517.6 227.5,510.3 228.0,501.5 228.5,502.6 229.0,494.4 229.5,495.0 230.0,499.9 230.5,494.1 231.0,497.8 231.5,499.9 232.0,486.3 233.0,472.0 234.0,471.9 235.0,483.6 236.0,483.2 237.0,459.1 238.0,459.6 239.0,483.7 240.0,497.1 241.0,472.0 242.0,446.5 243.0,472.5 244.0,496.4 245.0,500.9 246.0,501.2 247.0,500.2 248.0,508.1 249.0,508.3 250.0,514.4 251.0,509.0 252.0,506.6 253.0,513.9 254.0,505.7 255.0,512.1 256.0,503.3 257.0,506.6 258.0,506.8 259.0,503.5 260.0,500.3 261.0,508.8 262.0,510.0 263.0,500.9 264.0,478.0 265.0,493.2 266.0,503.6 267.0,500.7 268.0,496.4 269.0,482.4 270.0,469.8 271.0,478.5 272.0,501.3 273.0,506.2 274.0,505.1 275.0,505.0 276.0,504.4 277.0,496.6 278.0,485.3 279.0,477.9 280.0,498.7 281.0,519.2 282.0,514.6 283.0,503.5 284.0,463.5 285.0,457.4 286.0,488.3 287.0,498.9 288.0,510.0 289.0,494.7 290.0,471.4 291.0,490.1 292.0,494.3 293.0,500.8 294.0,509.7 295.0,511.8 296.0,511.9 297.0,507.8 298.0,486.4 299.0,456.1 300.0,479.4 301.0,504.1 302.0,502.2 303.0,512.6 304.0,494.4 305.0,486.1 306.0,497.3 307.0,498.4 308.0,502.2 309.0,487.8 310.0,499.6 311.0,500.0 312.0,486.3 313.0,464.5 314.0,474.0 315.0,493.0 316.0,501.5 317.0,506.1 318.0,491.3 319.0,449.4 320.0,457.2 321.0,473.3 322.0,492.2 323.0,501.3 324.0,491.5 325.0,490.0 326.0,490.4 327.0,491.2 328.0,505.3 329.0,510.2 330.0,508.9 331.0,503.6 332.0,505.2 333.0,478.5 334.0,467.1 335.0,493.0 336.0,504.5 337.0,497.1 338.0,493.0 339.0,463.0 340.0,478.0 341.0,490.9 342.0,495.7 343.0,499.9 344.0,503.6 345.0,504.7 346.0,505.2 347.0,504.0 348.0,497.6 349.0,507.8 350.0,511.5 351.0,507.3 352.0,496.4 353.0,460.9 354.0,461.0 355.0,490.9 356.0,505.8 357.0,501.8 358.0,496.0 359.0,484.5 360.0,498.6 361.0,508.0 362.0,510.0 363.0,507.8 364.0,503.2 365.0,514.6 366.0,513.5 367.0,506.4 368.0,474.2 369.0,483.0 370.0,501.7 371.0,502.5 372.0,490.3 373.0,481.1 374.0,485.3 375.0,509.2 376.0,520.0 377.0,506.9 378.0,508.3 379.0,505.7 380.0,506.7 381.0,508.2 382.0,490.5 383.0,480.6 384.0,500.1 385.0,501.7 386.0,500.6 387.0,500.3 388.0,471.4 389.0,478.3 390.0,492.1 391.0,501.0 392.0,514.7 393.0,497.3 394.0,476.0 395.0,493.4 396.0,509.9 397.0,511.7 398.0,510.0 399.0,505.1 400.0,513.7 401.0,500.4 402.0,490.0 403.0,487.0 404.0,497.0 405.0,498.6 406.0,499.6 407.0,500.1 408.0,480.5 409.0,477.1 410.0,506.1 411.0,516.1 412.0,503.1 413.0,502.9 414.0,508.5 415.0,507.0 416.0,503.5 417.0,495.5 418.0,486.8 419.0,500.2 420.0,505.1 421.0,508.0 422.0,492.5 423.0,481.7 424.0,490.4 425.0,492.9 426.0,514.7 427.0,502.3 428.0,486.4 429.0,500.6 430.0,500.4 431.0,504.8 432.0,500.1 433.0,510.3 434.0,507.2 435.0,501.5 436.0,489.3 437.0,447.9 438.0,455.5 439.0,478.8 440.0,491.3 441.0,505.5 442.0,495.4 443.0,467.4 444.0,473.6 445.0,485.4 446.0,496.2 447.0,513.0 448.0,504.1 449.0,498.3 450.0,503.5 451.0,497.7 452.0,489.4 453.0,499.2 454.0,502.0 455.0,511.5 456.0,500.6 457.0,481.0 458.0,474.7 459.0,491.1 460.0,504.7 461.0,515.2 462.0,506.0 463.0,493.7 464.0,497.0 465.0,503.1 466.0,503.9 467.0,505.3 468.0,504.2 469.0,505.2 470.0,507.7 471.0,482.6 472.0,461.7 473.0,488.7 474.0,499.0 475.0,504.5 476.0,489.6 477.0,469.1 478.0,466.7 479.0,496.9 480.0,496.5 481.0,502.4 482.0,513.9 483.0,505.9 484.0,509.8 485.0,502.3 486.0,484.1 487.0,483.4 488.0,502.1 489.0,507.7 490.0,502.9 491.0,481.1 492.0,461.7 493.0,494.1 494.0,440.0 495.0,421.9 496.0,424.3 497.0,428.5 498.0,433.2 499.0,438.4 500.0,439.8 501.0,437.6 502.0,437.1 503.0,441.8 504.0,443.3 505.0,438.5 506.0,414.0 507.0,404.7 508.0,416.1 509.0,429.5 510.0,433.2 511.0,428.1 512.0,406.6 513.0,415.3 514.0,423.9 515.0,434.5 516.0,443.1 517.0,433.7 518.0,435.9 519.0,433.3 520.0,430.0 521.0,428.0 522.0,432.8 523.0,434.4 524.0,444.5 525.0,441.2 526.0,426.2 527.0,416.8 528.0,430.5 529.0,442.4 530.0,439.8 531.0,437.4 532.0,437.2 533.0,439.1 534.0,438.3 535.0,437.8 536.0,441.5 537.0,444.3 538.0,442.1 539.0,439.1 540.0,425.4 541.0,398.1 542.0,408.2 543.0,426.9 544.0,438.6 545.0,442.5 546.0,420.7 547.0,409.2 548.0,417.9 549.0,432.2 550.0,432.5 551.0,436.1 552.0,435.2 553.0,437.8 554.0,436.3 555.0,424.3 556.0,417.5 557.0,429.8 558.0,434.8 559.0,442.1 560.0,428.4 561.0,404.5 562.0,408.9 563.0,429.0 564.0,435.4 565.0,440.2 566.0,435.8 567.0,430.5 568.0,435.2 569.0,437.5 570.0,439.8 571.0,440.7 572.0,445.6 573.0,442.9 574.0,442.4 575.0,434.4 576.0,412.8 577.0,412.3 578.0,427.1 579.0,431.7 580.0,428.7 581.0,422.1 582.0,420.0 583.0,434.3 584.0,437.6 585.0,444.0 586.0,442.3 587.0,438.7 588.0,438.9 589.0,435.4 590.0,412.5 591.0,412.1 592.0,429.3 593.0,439.2 594.0,437.5 595.0,427.2 596.0,407.0 597.0,414.0 598.0,432.9 599.0,434.9 600.0,438.0 601.0,437.0 602.0,437.6 603.0,440.9 604.0,430.7 605.0,423.9 606.0,427.8 607.0,439.9 608.0,442.2 609.0,440.9 610.0,419.2 611.0,386.4 612.0,409.1 613.0,429.0 614.0,437.8 615.0,430.1 616.0,415.0 617.0,421.4 618.0,429.7 619.0,438.7 620.0,437.7 621.0,435.3 622.0,438.2 623.0,439.7 624.0,429.6 625.0,409.6 626.0,416.8 627.0,432.6 628.0,437.7 629.0,435.1 630.0,422.8 631.0,404.1 632.0,415.1 633.0,427.6 634.0,436.1 635.0,439.9 636.0,433.6 637.0,440.5 638.0,443.0 639.0,434.5 640.0,425.6 641.0,431.9 642.0,436.6 643.0,444.3 644.0,431.6 645.0,406.2 646.0,409.6 647.0,426.2 648.0,435.1 649.0,431.5 650.0,422.8 651.0,409.9 652.0,422.4 653.0,432.8 654.0,441.4 655.0,441.1 656.0,437.3 657.0,442.9 658.0,435.4 659.0,418.8 660.0,413.3 661.0,427.5 662.0,436.5 663.0,438.8 664.0,431.0 665.0,407.6 666.0,414.5 667.0,432.4 668.0,436.6 669.0,440.4 670.0,437.6 671.0,437.3 672.0,438.0 673.0,433.2 674.0,421.1 675.0,426.7 676.0,437.5 677.0,442.9 678.0,439.9 679.0,422.1 680.0,404.2 681.0,416.2 682.0,434.6 683.0,443.8 684.0,440.7 685.0,415.5 686.0,418.6 687.0,428.2 688.0,436.2 689.0,440.2 690.0,440.3 691.0,437.6 692.0,439.5 693.0,426.6 694.0,416.9 695.0,427.8 696.0,435.0 697.0,442.2 698.0,446.3 699.0,436.7 700.0,405.9 701.0,408.1 702.0,428.4 703.0,441.4 704.0,440.2 705.0,444.7 706.0,437.1 707.0,430.7 708.0,427.0 709.0,428.4 710.0,428.5 711.0,434.2 712.0,433.8 713.0,433.6 714.0,410.3 715.0,396.0 716.0,414.4 717.0,432.4 718.0,439.2 719.0,425.4 720.0,405.4 721.0,416.5 722.0,427.7 723.0,434.9 724.0,438.8 725.0,438.8 726.0,437.5 727.0,435.0 728.0,427.4 729.0,409.2 730.0,423.8 731.0,435.2 732.0,441.7 733.0,434.1 734.0,412.7 735.0,395.9 736.0,415.4 737.0,428.9 738.0,441.6 739.0,448.1 740.0,443.0 741.0,439.9 742.0,433.8 743.0,413.3 744.0,413.6 745.0,424.8 746.0,436.4 747.0,434.7 748.0,433.4 749.0,405.1 750.0,406.9 751.0,423.8 752.0,429.1 753.0,435.2 754.0,429.6 755.0,426.0 756.0,431.2 757.0,440.8 758.0,435.8 759.0,438.0 760.0,441.0 761.0,441.0 762.0,438.4 763.0,422.7 764.0,412.1 765.0,429.4 766.0,434.5 767.0,437.5 768.0,425.9 769.0,413.8 770.0,414.0 771.0,433.4 772.0,436.6 773.0,435.2 774.0,437.8 775.0,443.7 776.0,444.3 777.0,428.7 778.0,409.7 779.0,409.6 780.0,425.0 781.0,439.0 782.0,433.5 783.0,419.3 784.0,398.8 785.0,419.9 786.0,431.8 787.0,434.5 788.0,431.6 789.0,424.1 790.0,420.4 791.0,431.2 792.0,437.3 793.0,440.0 794.0,438.0 795.0,435.8 796.0,438.9 797.0,435.8 798.0,413.0 799.0,408.3 800.0,423.1 801.0,431.9 802.0,438.6 803.0,429.1 804.0,416.2 805.0,425.2 806.0,437.8 807.0,438.6 808.0,441.5 809.0,439.9 810.0,439.1 811.0,433.2 812.0,428.5 813.0,407.8 814.0,421.9 815.0,433.1 816.0,435.2 817.0,441.6 818.0,430.4 819.0,408.1 820.0,420.0 821.0,427.4 822.0,433.5 823.0,437.3 824.0,428.9 825.0,430.1 826.0,435.7 827.0,438.7 828.0,441.6 829.0,434.5 830.0,437.4 831.0,439.9 832.0,430.4 833.0,403.5 834.0,404.6 835.0,423.8 836.0,435.8 837.0,441.0 838.0,416.5 839.0,418.8 840.0,432.5 841.0,440.5 842.0,441.5 843.0,444.3 844.0,437.7 845.0,437.2 846.0,432.9 847.0,415.5 848.0,409.0 849.0,424.2 850.0,437.2 851.0,440.2 852.0,431.3 853.0,414.7 854.0,418.1 855.0,431.0 856.0,434.5 857.0,438.5 858.0,439.9 859.0,435.9 860.0,434.1 861.0,429.9 862.0,421.6 863.0,430.0 864.0,440.7 865.0,440.7 866.0,427.7 867.0,397.4 868.0,409.5 869.0,430.2 870.0,439.1 871.0,441.2 872.0,438.0 873.0,426.0 874.0,428.4 875.0,436.2 876.0,442.5 877.0,440.5 878.0,438.7 879.0,442.1 880.0,443.1 881.0,427.4 882.0,419.5 883.0,424.2 884.0,440.3 885.0,441.6 886.0,437.2 887.0,423.9 888.0,411.8 889.0,426.0 890.0,437.8 891.0,442.8 892.0,440.9 893.0,441.3 894.0,442.0 895.0,436.2 896.0,425.8 897.0,427.4 898.0,430.6 899.0,438.1 900.0,440.8 901.0,431.3 902.0,402.0 903.0,402.1 904.0,421.1 905.0,437.9 906.0,439.4 907.0,427.3 908.0,412.7 909.0,426.6 910.0,435.2 911.0,435.4 912.0,434.1 913.0,435.7 914.0,435.9 915.0,429.9 916.0,419.0 917.0,406.5 918.0,420.9 919.0,432.5 920.0,442.3 921.0,435.3 922.0,418.1 923.0,400.9 924.0,423.6 925.0,434.2 926.0,435.6 927.0,443.6 928.0,442.5 929.0,437.9 930.0,429.4 931.0,414.9 932.0,424.5 933.0,433.0 934.0,443.7 935.0,443.3 936.0,440.6 937.0,409.4 938.0,406.5 939.0,423.1 940.0,435.6 941.0,440.1 942.0,439.3 943.0,426.8 944.0,431.2 945.0,440.6 946.0,438.6 947.0,439.4 948.0,444.6 949.0,444.8 950.0,436.4 951.0,408.8 952.0,399.9 953.0,421.0 954.0,437.5 955.0,431.5 956.0,423.7 957.0,412.7 958.0,425.9 959.0,433.6 960.0,442.4 961.0,439.6 962.0,439.0 963.0,443.2 964.0,440.5 965.0,428.9 966.0,415.1 967.0,425.6 968.0,433.1 969.0,434.7 970.0,434.9 971.0,417.4 972.0,399.6 973.0,417.0 974.0,432.1 975.0,439.6 976.0,438.7 977.0,423.4 978.0,426.6 979.0,434.9 980.0,438.1 981.0,439.6 982.0,440.9 983.0,439.5 984.0,439.4 985.0,430.0 986.0,411.4 987.0,418.0 988.0,428.5 989.0,434.5 990.0,434.6 991.0,427.4 992.0,402.7 993.0,418.4 994.0,432.7 995.0,439.6 996.0,437.8 997.0,441.2 998.0,437.6 999.0,440.2 1000.0,423.0 1001.0,411.2 1002.0,423.7 1003.0,427.7 1004.0,435.3 1005.0,439.4 1006.0,409.1 1007.0,397.4 1008.0,418.9 1009.0,432.8 1010.0,435.9 1011.0,432.0 1012.0,423.8 1013.0,430.4 1014.0,435.4 1015.0,442.5 1016.0,438.9 1017.0,441.0 1018.0,438.0 1019.0,441.9 1020.0,430.6 1021.0,396.6 1022.0,407.4 1023.0,428.1 1024.0,437.0 1025.0,434.3 1026.0,416.2 1027.0,419.1 1028.0,424.1 1029.0,434.2 1030.0,442.0 1031.0,439.1 1032.0,438.9 1033.0,437.6 1034.0,431.1 1035.0,416.0 1036.0,416.9 1037.0,430.6 1038.0,438.1 1039.0,440.2 1040.0,431.3 1041.0,409.3 1042.0,417.5 1043.0,424.1 1044.0,431.4 1045.0,438.0 1046.0,430.0 1047.0,423.8 1048.0,433.0 1049.0,444.2 1050.0,442.5 1051.0,437.5 1052.0,440.7 1053.0,440.5 1054.0,431.0 1055.0,407.8 1056.0,398.7 1057.0,418.7 1058.0,426.8 1059.0,432.9 1060.0,424.4 1061.0,396.8 1062.0,411.9 1063.0,422.6 1064.0,433.1 1065.0,436.4 1066.0,439.4 1067.0,435.8 1068.0,436.4 1069.0,433.7 1070.0,422.7 1071.0,428.5 1072.0,434.3 1073.0,436.1 1074.0,433.2 1075.0,406.9 1076.0,396.5 1077.0,419.8 1078.0,437.4 1079.0,439.7 1080.0,440.0 1081.0,438.2 1082.0,440.2 1083.0,436.8 1084.0,422.4 1085.0,428.6 1086.0,436.5 1087.0,439.3 1088.0,439.2 1089.0,434.4 1090.0,410.8 1091.0,413.5 1092.0,429.5 1093.0,433.5 1094.0,438.6 1095.0,423.9 1096.0,411.6 1097.0,423.0 1098.0,433.1 1099.0,440.1 1100.0,444.4 1101.0,438.9 1102.0,439.5 1103.0,437.5 1104.0,412.7 1105.0,413.5 1106.0,425.6 1107.0,434.5 1108.0,438.2 1109.0,428.4 1110.0,411.7 1111.0,418.6 1112.0,432.3 1113.0,433.1 1114.0,441.8 1115.0,439.7 1116.0,445.1 1117.0,442.5 1118.0,433.5 1119.0,423.6 1120.0,424.2 1121.0,438.3 1122.0,439.1 1123.0,436.2 1124.0,433.6 1125.0,416.6 1126.0,415.4 1127.0,429.1 1128.0,438.9 1129.0,433.5 1130.0,410.3 1131.0,414.0 1132.0,429.9 1133.0,439.4 1134.0,436.9 1135.0,436.7 1136.0,436.3 1137.0,438.7 1138.0,432.9 1139.0,412.2 1140.0,384.7 1141.0,410.0 1142.0,430.1 1143.0,436.8 1144.0,429.1 1145.0,402.1 1146.0,406.2 1147.0,423.7 1148.0,437.4 1149.0,438.0 1150.0,437.6 1151.0,439.1 1152.0,434.0 1153.0,417.4 1154.0,419.7 1155.0,428.8 1156.0,432.9 1157.0,435.1 1158.0,433.5 1159.0,415.8 1160.0,403.6 1161.0,423.6 1162.0,429.4 1163.0,430.7 1164.0,432.7 1165.0,420.1 1166.0,420.2 1167.0,432.6 1168.0,438.3 1169.0,441.1 1170.0,437.3 1171.0,435.9 1172.0,438.5 1173.0,434.8 1174.0,409.1 1175.0,414.1 1176.0,429.6 1177.0,437.4 1178.0,439.9 1179.0,426.5 1180.0,406.1 1181.0,423.4 1182.0,433.1 1183.0,443.0 1184.0,443.1 1185.0,439.5 1186.0,437.1 1187.0,434.5 1188.0,419.0 1189.0,418.4 1190.0,425.9 1191.0,432.5 1192.0,438.7 1193.0,435.0 1194.0,416.1 1195.0,409.9 1196.0,427.1 1197.0,434.4 1198.0,437.1 1199.0,439.9 1200.0,434.5 1201.0,432.0 1202.0,432.0 1203.0,438.0 1204.0,439.6 1205.0,440.6 1206.0,444.5 1207.0,446.9 1208.0,436.7 1209.0,416.3 1210.0,416.8 1211.0,428.8 1212.0,437.4 1213.0,434.1 1214.0,409.2 1215.0,415.8 1216.0,426.5 1217.0,432.8 1218.0,437.1 1219.0,431.9 1220.0,434.8 1221.0,439.2 1222.0,432.0 1223.0,413.2 1224.0,413.7 1225.0,430.6 1226.0,433.1 1227.0,434.3 1228.0,432.2 1229.0,414.7 1230.0,409.8 1231.0,426.4 1232.0,436.7 1233.0,434.6 1234.0,439.2 1235.0,443.7 1236.0,435.0 1237.0,426.8 1238.0,429.6 1239.0,435.0 1240.0,437.9 1241.0,443.5 1242.0,433.1 1243.0,420.7 1244.0,394.3 1245.0,408.8 1246.0,424.0 1247.0,437.1 1248.0,436.8 1249.0,419.5 1250.0,422.5 1251.0,430.9 1252.0,436.1 1253.0,434.2 1254.0,436.6 1255.0,436.1 1256.0,435.2 1257.0,431.3 1258.0,410.5 1259.0,407.5 1260.0,432.9 1261.0,437.7 1262.0,434.8 1263.0,413.1 1264.0,391.1 1265.0,411.2 1266.0,428.6 1267.0,442.5 1268.0,437.0 1269.0,432.4 1270.0,442.8 1271.0,445.3 1272.0,430.6 1273.0,430.7 1274.0,431.9 1275.0,439.0 1276.0,438.3 1277.0,422.3 1278.0,384.9 1279.0,388.0 1280.0,412.3 1281.0,431.4 1282.0,436.9 1283.0,428.7 1284.0,409.1 1285.0,420.8 1286.0,433.6 1287.0,442.1 1288.0,446.6 1289.0,437.5 1290.0,437.5 1291.0,444.0 1292.0,431.9 1293.0,417.6 1294.0,419.1 1295.0,431.4 1296.0,439.0 1297.0,432.3 1298.0,410.3 1299.0,411.3 1300.0,424.4 1301.0,429.7 1302.0,441.1 1303.0,441.8 1304.0,438.8 1305.0,427.5 1306.0,428.2 1307.0,440.1 1308.0,440.7 1309.0,433.7 1310.0,436.6 1311.0,435.0 1312.0,429.0 1313.0,403.7 1314.0,395.8 1315.0,419.9 1316.0,436.1 1317.0,434.6 1318.0,430.3 1319.0,418.1 1320.0,432.1 1321.0,435.1 1322.0,440.8 1323.0,437.2 1324.0,436.5 1325.0,437.3 1326.0,432.8 1327.0,404.8 1328.0,401.6 1329.0,423.7 1330.0,442.0 1331.0,440.9 1332.0,433.9 1333.0,410.4 1334.0,409.9 1335.0,420.3 1336.0,433.0 1337.0,442.8 1338.0,441.7 1339.0,438.0 1340.0,439.0 1341.0,425.6 1342.0,427.2 1343.0,434.8 1344.0,437.9 1345.0,436.4 1346.0,435.0 1347.0,416.2 1348.0,394.6 1349.0,416.7 1350.0,431.4 1351.0,430.8 1352.0,423.0 1353.0,420.4 1354.0,431.1 1355.0,437.8 1356.0,440.7 1357.0,437.2 1358.0,442.2 1359.0,438.1 1360.0,438.3 1361.0,436.6 1362.0,414.0 1363.0,409.8 1364.0,424.3 1365.0,434.1 1366.0,440.8 1367.0,432.3 1368.0,412.1 1369.0,415.8 1370.0,431.7 1371.0,436.1 1372.0,437.9 1373.0,441.8 1374.0,436.8 1375.0,442.1 1376.0,434.2 1377.0,415.2 1378.0,429.1 1379.0,434.1 1380.0,437.0 1381.0,430.8 1382.0,399.5 1383.0,396.7 1384.0,420.4 1385.0,434.7 1386.0,440.4 1387.0,429.6 1388.0,422.2 1389.0,432.5 1390.0,438.1 1391.0,432.2 1392.0,437.4 1393.0,443.2 1394.0,437.5 1395.0,441.7 1396.0,416.2 1397.0,391.9 1398.0,413.3 1399.0,428.7 1400.0,434.5 1401.0,421.8 1402.0,403.2 1403.0,414.2 1404.0,429.4 1405.0,434.2 1406.0,438.8 1407.0,444.0 1408.0,442.7 1409.0,442.6 1410.0,436.5 1411.0,423.1 1412.0,419.5 1413.0,430.1 1414.0,436.5 1415.0,435.7 1416.0,423.8 1417.0,415.0 1418.0,422.5 1419.0,431.3 1420.0,442.4 1421.0,436.2 1422.0,423.1 1423.0,426.4 1424.0,437.9 1425.0,431.5 1426.0,436.5 1427.0,441.6 1428.0,437.8 1429.0,441.9 1430.0,438.4 1431.0,422.5 1432.0,415.1 1433.0,427.0 1434.0,435.7 1435.0,437.9 1436.0,427.0 1437.0,415.9 1438.0,425.2 1439.0,437.3 1440.0,437.2 1441.0,439.5 1442.0,438.0 1443.0,442.6 1444.0,438.1 1445.0,426.0 1446.0,413.8 1447.0,420.6 1448.0,430.5 1449.0,433.2 1450.0,432.1 1451.0,429.7 1452.0,414.4 1453.0,422.4 1454.0,431.5 1455.0,443.1 1456.0,440.8 1457.0,428.8 1458.0,426.1 1459.0,432.2 1460.0,436.2 1461.0,440.2 1462.0,445.7 1463.0,442.3 1464.0,435.8 1465.0,432.0 1466.0,415.9 1467.0,411.1 1468.0,428.8 1469.0,431.8 1470.0,433.9 1471.0,430.7 1472.0,422.0 1473.0,427.6 1474.0,436.0 1475.0,435.4 1476.0,437.9 1477.0,438.4 1478.0,439.2 1479.0,435.7 1480.0,422.8 1481.0,418.8 1482.0,430.3 1483.0,438.5 1484.0,441.4 1485.0,435.6 1486.0,419.5 1487.0,412.5 1488.0,430.5 1489.0,440.9 1490.0,438.1 1491.0,437.7 1492.0,441.5 1493.0,445.9 1494.0,434.3 1495.0,427.8 1496.0,434.9 1497.0,438.8 1498.0,439.4 1499.0,438.1 1500.0,418.4 1501.0,393.8 1502.0,413.7 1503.0,431.8 1504.0,443.2 1505.0,438.5 1506.0,416.8 1507.0,413.1 1508.0,433.1 1509.0,435.6 1510.0,433.8 1511.0,439.1 1512.0,445.0 1513.0,439.0 1514.0,432.0 1515.0,409.1 1516.0,410.7 1517.0,426.7 1518.0,437.8 1519.0,440.4 1520.0,424.6 1521.0,406.9 1522.0,413.7 1523.0,429.8 1524.0,431.4 1525.0,432.0 1526.0,435.8 1527.0,441.6 1528.0,438.9 1529.0,429.4 1530.0,422.8 1531.0,429.7 1532.0,434.6 1533.0,435.2 1534.0,433.6 1535.0,412.4 1536.0,385.3 1537.0,408.2 1538.0,424.7 1539.0,429.7 1540.0,434.0 1541.0,432.6 1542.0,427.8 1543.0,436.0 1544.0,440.3 1545.0,439.8 1546.0,438.3 1547.0,444.9 1548.0,441.0 1549.0,435.6 1550.0,423.6 1551.0,426.6 1552.0,433.0 1553.0,440.9 1554.0,433.8 1555.0,418.6 1556.0,395.1 1557.0,414.9 1558.0,435.7 1559.0,436.5 1560.0,438.4 1561.0,438.7 1562.0,438.0 1563.0,436.2 1564.0,423.9 1565.0,428.2 1566.0,434.8 1567.0,436.5 1568.0,440.8 1569.0,429.2 1570.0,410.1 1571.0,416.8 1572.0,428.3 1573.0,435.6 1574.0,438.9 1575.0,433.3 1576.0,426.7 1577.0,434.6 1578.0,442.2 1579.0,440.1 1580.0,441.4 1581.0,443.1 1582.0,442.2 1583.0,436.0 1584.0,413.5 1585.0,386.0 1586.0,410.8 1587.0,431.6 1588.0,434.4 1589.0,435.0 1590.0,422.6 1591.0,425.7 1592.0,435.6 1593.0,436.7 1594.0,441.7 1595.0,440.2 1596.0,441.9 1597.0,443.0 1598.0,432.3 1599.0,422.8 1600.0,432.4 1601.0,439.9 1602.0,437.5 1603.0,439.7 1604.0,425.9 1605.0,400.0 1606.0,415.5 1607.0,427.1 1608.0,436.8 1609.0,435.9 1610.0,426.1 1611.0,416.0 1612.0,426.0 1613.0,434.4 1614.0,439.1 1615.0,439.6 1616.0,439.6 1617.0,440.8 1618.0,436.9 1619.0,416.6 1620.0,401.2 1621.0,416.7 1622.0,427.3 1623.0,429.2 1624.0,425.7 1625.0,413.0 1626.0,424.6 1627.0,431.6 1628.0,437.4 1629.0,436.4 1630.0,433.5 1631.0,442.2 1632.0,437.4 1633.0,431.8 1634.0,421.4 1635.0,428.9 1636.0,436.4 1637.0,436.3 1638.0,438.3 1639.0,410.8 1640.0,394.5 1641.0,417.3 1642.0,434.9 1643.0,438.5 1644.0,442.0 1645.0,434.3 1646.0,428.2 1647.0,434.6 1648.0,443.1 1649.0,442.4 1650.0,441.7 1651.0,440.4 1652.0,439.1 1653.0,434.3 1654.0,403.6 1655.0,404.5 1656.0,422.8 1657.0,430.8 1658.0,429.3 1659.0,419.3 1660.0,411.3 1661.0,427.2 1662.0,435.9 1663.0,438.4 1664.0,442.2 1665.0,441.8 1666.0,435.3 1667.0,435.3 1668.0,430.5 1669.0,420.4 1670.0,431.7 1671.0,440.8 1672.0,436.3 1673.0,428.4 1674.0,410.5 1675.0,417.0 1676.0,432.4 1677.0,433.8 1678.0,441.5 1679.0,443.7"/>
<polyline fill="none" stroke="#ff6600" stroke-width="3" stroke-linejoin="round" shape-rendering="crispEdges" points="195.5,891.5 196.0,891.5 196.5,891.5 197.0,891.5 197.5,891.5 198.0,891.5 198.5,891.5 199.0,891.5 199.5,891.5 200.0,891.5 200.5,891.1 201.0,890.7 201.5,890.2 202.0,889.0 202.5,887.7 203.0,885.9 203.5,883.7 204.0,879.7 204.5,875.7 205.0,871.8 205.5,862.2 206.0,852.6 206.5,843.4 207.0,834.5 207.5,825.6 208.0,815.3 208.5,804.0 209.0,792.2 209.5,779.8 210.0,762.3 210.5,737.2 211.0,712.1 211.5,686.9 212.0,661.8 212.5,636.7 213.0,620.8 213.5,604.8 214.0,591.1 214.5,586.2 215.0,581.3 215.5,576.4 216.0,571.5 216.5,566.6 217.0,553.6 217.5,540.6 218.0,527.5 218.5,514.5 219.0,504.0 219.5,495.1 220.0,486.3 220.5,477.4 221.0,460.4 221.5,443.3 222.0,426.2 222.5,409.2 223.0,392.1 223.5,376.1 224.0,361.6 224.5,347.1 225.0,332.6 225.5,318.2 226.0,305.4 226.5,292.7 227.0,279.9 227.5,263.4 228.0,246.8 228.5,246.5 229.0,246.2 229.5,245.9 230.0,245.7 230.5,245.4 231.0,245.1 231.5,244.9 232.0,229.8 233.0,201.5 234.0,199.6 235.0,212.0 236.0,215.5 237.0,204.2 238.0,199.9 239.0,213.1 240.0,217.7 241.0,207.5 242.0,197.9 243.0,217.2 244.0,230.2 245.0,236.0 246.0,239.5 247.0,240.9 248.0,241.6 249.0,243.4 250.0,244.7 251.0,244.8 252.0,245.4 253.0,244.9 254.0,245.3 255.0,245.0 256.0,245.7 257.0,244.3 258.0,244.7 259.0,245.2 260.0,244.8 261.0,244.4 262.0,243.7 263.0,233.8 264.0,210.9 265.0,219.5 266.0,235.1 267.0,242.2 268.0,244.0 269.0,241.6 270.0,235.9 271.0,238.6 272.0,241.7 273.0,243.7 274.0,244.7 275.0,245.2 276.0,245.1 277.0,242.9 278.0,233.7 279.0,231.1 280.0,239.1 281.0,243.2 282.0,243.5 283.0,236.9 284.0,209.4 285.0,205.6 286.0,226.6 287.0,238.5 288.0,242.7 289.0,239.1 290.0,232.2 291.0,236.6 292.0,241.9 293.0,243.1 294.0,243.8 295.0,244.9 296.0,244.6 297.0,243.8 298.0,232.8 299.0,208.7 300.0,218.1 301.0,234.0 302.0,241.4 303.0,240.1 304.0,226.0 305.0,223.4 306.0,235.4 307.0,241.5 308.0,244.0 309.0,245.1 310.0,245.0 311.0,244.3 312.0,240.0 313.0,230.5 314.0,234.3 315.0,240.2 316.0,243.3 317.0,243.5 318.0,233.5 319.0,209.9 320.0,219.1 321.0,233.3 322.0,241.5 323.0,241.5 324.0,232.7 325.0,234.1 326.0,240.5 327.0,243.1 328.0,245.4 329.0,244.6 330.0,244.9 331.0,244.5 332.0,239.0 333.0,215.6 334.0,213.5 335.0,230.7 336.0,239.9 337.0,243.0 338.0,235.4 339.0,221.1 340.0,229.1 341.0,238.3 342.0,242.8 343.0,244.1 344.0,245.0 345.0,244.8 346.0,243.2 347.0,232.5 348.0,226.6 349.0,235.6 350.0,241.5 351.0,244.1 352.0,240.9 353.0,222.5 354.0,212.3 355.0,228.4 356.0,238.9 357.0,241.9 358.0,236.4 359.0,229.7 360.0,236.6 361.0,241.7 362.0,243.9 363.0,244.5 364.0,245.4 365.0,245.0 366.0,244.2 367.0,236.1 368.0,213.2 369.0,213.7 370.0,231.6 371.0,240.8 372.0,239.7 373.0,226.8 374.0,222.3 375.0,233.7 376.0,240.7 377.0,243.8 378.0,244.9 379.0,245.5 380.0,244.8 381.0,243.6 382.0,232.1 383.0,224.9 384.0,235.0 385.0,240.9 386.0,243.1 387.0,236.0 388.0,212.9 389.0,219.1 390.0,233.4 391.0,240.7 392.0,243.6 393.0,238.1 394.0,232.5 395.0,238.1 396.0,243.1 397.0,244.2 398.0,244.4 399.0,245.6 400.0,244.9 401.0,241.0 402.0,220.1 403.0,207.1 404.0,226.4 405.0,238.3 406.0,242.1 407.0,238.0 408.0,219.9 409.0,225.4 410.0,237.0 411.0,241.9 412.0,244.0 413.0,245.1 414.0,245.2 415.0,244.3 416.0,241.0 417.0,229.5 418.0,230.1 419.0,238.8 420.0,242.3 421.0,243.7 422.0,235.6 423.0,214.4 424.0,218.8 425.0,233.8 426.0,239.6 427.0,238.2 428.0,232.4 429.0,238.1 430.0,241.8 431.0,244.1 432.0,244.5 433.0,245.7 434.0,245.4 435.0,243.7 436.0,234.4 437.0,208.6 438.0,214.9 439.0,231.8 440.0,240.9 441.0,243.4 442.0,238.4 443.0,224.2 444.0,228.2 445.0,237.7 446.0,242.5 447.0,244.3 448.0,244.8 449.0,245.2 450.0,242.6 451.0,233.0 452.0,227.2 453.0,235.5 454.0,241.0 455.0,243.1 456.0,241.3 457.0,225.2 458.0,215.5 459.0,229.9 460.0,239.7 461.0,243.0 462.0,241.2 463.0,238.7 464.0,240.7 465.0,244.2 466.0,244.8 467.0,244.9 468.0,244.8 469.0,245.4 470.0,242.9 471.0,227.8 472.0,206.1 473.0,221.8 474.0,236.0 475.0,242.7 476.0,240.9 477.0,228.7 478.0,225.0 479.0,235.3 480.0,241.3 481.0,243.8 482.0,244.4 483.0,244.4 484.0,244.7 485.0,239.3 486.0,225.6 487.0,229.4 488.0,237.7 489.0,242.7 490.0,242.1 491.0,228.0 492.0,211.8 493.0,155.6 494.0,162.0 495.0,168.9 496.0,172.3 497.0,171.9 498.0,175.2 499.0,177.7 500.0,179.7 501.0,179.9 502.0,179.6 503.0,179.2 504.0,179.7 505.0,176.3 506.0,160.9 507.0,152.1 508.0,166.0 509.0,174.4 510.0,177.2 511.0,172.7 512.0,156.6 513.0,160.1 514.0,172.1 515.0,176.5 516.0,178.8 517.0,179.3 518.0,179.0 519.0,178.3 520.0,170.0 521.0,159.5 522.0,168.3 523.0,175.2 524.0,177.0 525.0,177.4 526.0,165.4 527.0,154.4 528.0,166.9 529.0,174.5 530.0,178.2 531.0,179.3 532.0,179.3 533.0,179.7 534.0,180.2 535.0,179.7 536.0,179.1 537.0,179.3 538.0,179.0 539.0,177.6 540.0,165.4 541.0,138.0 542.0,149.0 543.0,166.6 544.0,174.7 545.0,176.2 546.0,167.6 547.0,160.6 548.0,169.2 549.0,175.5 550.0,177.8 551.0,179.7 552.0,179.6 553.0,179.3 554.0,177.1 555.0,165.7 556.0,158.8 557.0,169.4 558.0,175.3 559.0,178.0 560.0,170.9 561.0,151.6 562.0,155.4 563.0,169.5 564.0,175.8 565.0,178.1 566.0,174.7 567.0,171.5 568.0,175.5 569.0,177.6 570.0,178.7 571.0,179.6 572.0,179.9 573.0,179.1 574.0,178.3 575.0,168.8 576.0,143.5 577.0,149.4 578.0,166.0 579.0,174.8 580.0,175.4 581.0,162.4 582.0,157.5 583.0,168.9 584.0,176.1 585.0,178.7 586.0,178.8 587.0,179.5 588.0,178.7 589.0,174.3 590.0,160.5 591.0,164.0 592.0,172.6 593.0,177.3 594.0,179.0 595.0,171.8 596.0,153.9 597.0,158.0 598.0,169.7 599.0,176.0 600.0,178.4 601.0,179.4 602.0,179.8 603.0,179.1 604.0,175.1 605.0,170.0 606.0,174.8 607.0,177.8 608.0,178.8 609.0,177.3 610.0,161.9 611.0,139.6 612.0,155.8 613.0,169.5 614.0,175.8 615.0,172.2 616.0,158.9 617.0,164.2 618.0,173.2 619.0,177.1 620.0,179.2 621.0,179.5 622.0,179.7 623.0,178.9 624.0,174.3 625.0,159.4 626.0,163.2 627.0,172.5 628.0,176.9 629.0,176.9 630.0,163.6 631.0,150.5 632.0,164.1 633.0,173.9 634.0,177.3 635.0,179.4 636.0,178.9 637.0,179.5 638.0,178.7 639.0,176.6 640.0,172.2 641.0,175.2 642.0,178.4 643.0,177.8 644.0,168.5 645.0,145.2 646.0,151.2 647.0,167.5 648.0,175.5 649.0,176.6 650.0,167.5 651.0,157.6 652.0,167.4 653.0,175.4 654.0,178.2 655.0,178.9 656.0,180.1 657.0,179.0 658.0,176.0 659.0,162.7 660.0,159.2 661.0,170.4 662.0,176.1 663.0,178.2 664.0,171.5 665.0,154.2 666.0,161.1 667.0,170.9 668.0,176.6 669.0,178.4 670.0,179.7 671.0,178.8 672.0,179.0 673.0,174.6 674.0,170.8 675.0,174.2 676.0,178.2 677.0,178.9 678.0,177.2 679.0,162.3 680.0,144.2 681.0,160.2 682.0,172.2 683.0,176.4 684.0,172.3 685.0,161.0 686.0,165.2 687.0,173.4 688.0,177.3 689.0,178.3 690.0,179.9 691.0,178.8 692.0,177.5 693.0,165.5 694.0,151.3 695.0,163.5 696.0,173.1 697.0,177.4 698.0,178.9 699.0,173.0 700.0,155.4 701.0,159.2 702.0,171.2 703.0,176.3 704.0,178.4 705.0,179.0 706.0,179.6 707.0,177.8 708.0,172.0 709.0,168.6 710.0,174.2 711.0,178.1 712.0,178.6 713.0,175.2 714.0,153.3 715.0,135.0 716.0,155.9 717.0,170.6 718.0,176.5 719.0,171.2 720.0,161.8 721.0,168.4 722.0,175.1 723.0,177.4 724.0,179.4 725.0,178.8 726.0,179.4 727.0,177.4 728.0,166.3 729.0,156.0 730.0,167.5 731.0,175.0 732.0,178.0 733.0,177.2 734.0,165.1 735.0,151.6 736.0,164.4 737.0,173.2 738.0,177.6 739.0,179.2 740.0,178.8 741.0,179.1 742.0,176.3 743.0,168.6 744.0,168.8 745.0,173.8 746.0,177.6 747.0,178.4 748.0,172.3 749.0,146.0 750.0,142.9 751.0,162.9 752.0,173.7 753.0,177.2 754.0,171.5 755.0,168.1 756.0,173.5 757.0,177.2 758.0,178.8 759.0,179.6 760.0,179.7 761.0,179.2 762.0,176.9 763.0,158.2 764.0,143.0 765.0,160.5 766.0,171.8 767.0,176.9 768.0,171.8 769.0,155.0 770.0,159.4 771.0,171.0 772.0,177.2 773.0,178.0 774.0,179.7 775.0,180.2 776.0,178.8 777.0,176.5 778.0,165.7 779.0,166.3 780.0,174.0 781.0,178.3 782.0,177.1 783.0,165.4 784.0,151.7 785.0,164.3 786.0,173.9 787.0,177.9 788.0,177.6 789.0,173.6 790.0,171.7 791.0,175.4 792.0,178.5 793.0,178.8 794.0,179.8 795.0,179.5 796.0,179.3 797.0,175.5 798.0,152.9 799.0,146.3 800.0,164.1 801.0,174.2 802.0,176.8 803.0,169.2 804.0,156.3 805.0,165.6 806.0,173.9 807.0,177.7 808.0,179.6 809.0,179.9 810.0,179.2 811.0,178.6 812.0,171.9 813.0,159.9 814.0,166.4 815.0,174.4 816.0,177.5 817.0,177.6 818.0,163.7 819.0,142.4 820.0,156.8 821.0,170.1 822.0,176.9 823.0,177.5 824.0,175.0 825.0,173.9 826.0,177.1 827.0,178.2 828.0,179.4 829.0,179.0 830.0,179.6 831.0,178.3 832.0,172.2 833.0,150.7 834.0,152.7 835.0,167.0 836.0,175.2 837.0,175.6 838.0,164.9 839.0,161.6 840.0,171.1 841.0,176.3 842.0,178.9 843.0,179.3 844.0,178.5 845.0,179.3 846.0,176.6 847.0,161.4 848.0,154.0 849.0,166.1 850.0,174.8 851.0,178.1 852.0,172.4 853.0,156.0 854.0,159.4 855.0,171.2 856.0,176.4 857.0,179.4 858.0,179.4 859.0,179.2 860.0,178.9 861.0,176.6 862.0,172.8 863.0,175.3 864.0,177.9 865.0,178.1 866.0,168.4 867.0,142.4 868.0,149.6 869.0,167.0 870.0,175.4 871.0,177.8 872.0,175.4 873.0,164.1 874.0,164.8 875.0,172.9 876.0,177.7 877.0,178.5 878.0,179.8 879.0,179.9 880.0,179.0 881.0,173.2 882.0,157.3 883.0,162.5 884.0,172.9 885.0,177.4 886.0,177.7 887.0,165.1 888.0,155.7 889.0,167.4 890.0,175.4 891.0,178.1 892.0,179.2 893.0,179.4 894.0,179.6 895.0,178.5 896.0,172.4 897.0,173.0 898.0,177.0 899.0,179.1 900.0,179.3 901.0,172.8 902.0,149.9 903.0,147.4 904.0,164.5 905.0,174.7 906.0,176.9 907.0,172.6 908.0,162.7 909.0,167.9 910.0,174.8 911.0,178.3 912.0,178.4 913.0,180.0 914.0,179.3 915.0,177.0 916.0,163.9 917.0,152.3 918.0,164.9 919.0,174.7 920.0,178.3 921.0,176.7 922.0,161.6 923.0,148.9 924.0,163.6 925.0,174.1 926.0,177.3 927.0,178.7 928.0,178.9 929.0,179.8 930.0,176.9 931.0,169.8 932.0,172.3 933.0,176.4 934.0,178.9 935.0,179.3 936.0,172.3 937.0,148.3 938.0,145.1 939.0,163.6 940.0,173.7 941.0,177.2 942.0,172.2 943.0,162.6 944.0,168.1 945.0,174.7 946.0,178.1 947.0,179.6 948.0,179.5 949.0,179.3 950.0,175.1 951.0,157.5 952.0,156.0 953.0,169.3 954.0,175.8 955.0,177.8 956.0,168.4 957.0,152.4 958.0,161.4 959.0,172.0 960.0,177.0 961.0,178.8 962.0,178.7 963.0,179.5 964.0,178.5 965.0,170.9 966.0,165.4 967.0,171.9 968.0,176.3 969.0,178.6 970.0,176.0 971.0,156.5 972.0,139.5 973.0,158.6 974.0,171.5 975.0,176.8 976.0,175.5 977.0,169.0 978.0,169.6 979.0,175.3 980.0,177.5 981.0,179.0 982.0,179.5 983.0,179.9 984.0,178.6 985.0,168.6 986.0,148.7 987.0,156.3 988.0,170.1 989.0,176.6 990.0,177.8 991.0,171.1 992.0,157.3 993.0,164.7 994.0,173.1 995.0,177.7 996.0,178.8 997.0,179.4 998.0,179.3 999.0,178.4 1000.0,172.9 1001.0,169.1 1002.0,174.0 1003.0,178.0 1004.0,178.8 1005.0,176.9 1006.0,163.2 1007.0,149.4 1008.0,163.7 1009.0,173.4 1010.0,177.3 1011.0,177.5 1012.0,172.8 1013.0,172.3 1014.0,176.3 1015.0,178.5 1016.0,179.3 1017.0,179.0 1018.0,179.1 1019.0,178.5 1020.0,168.3 1021.0,144.0 1022.0,153.5 1023.0,168.8 1024.0,176.2 1025.0,174.2 1026.0,162.9 1027.0,164.9 1028.0,173.1 1029.0,177.5 1030.0,178.9 1031.0,179.2 1032.0,179.1 1033.0,180.0 1034.0,176.7 1035.0,164.0 1036.0,162.9 1037.0,171.8 1038.0,177.3 1039.0,177.6 1040.0,172.0 1041.0,154.4 1042.0,158.8 1043.0,170.5 1044.0,176.5 1045.0,178.3 1046.0,175.4 1047.0,172.5 1048.0,175.9 1049.0,178.3 1050.0,179.2 1051.0,179.2 1052.0,180.5 1053.0,179.1 1054.0,175.2 1055.0,152.6 1056.0,141.2 1057.0,160.7 1058.0,172.6 1059.0,176.8 1060.0,169.8 1061.0,154.3 1062.0,163.5 1063.0,172.8 1064.0,178.0 1065.0,179.2 1066.0,179.6 1067.0,179.1 1068.0,177.9 1069.0,169.7 1070.0,155.4 1071.0,163.4 1072.0,173.0 1073.0,177.2 1074.0,175.2 1075.0,159.1 1076.0,150.3 1077.0,164.3 1078.0,173.9 1079.0,177.2 1080.0,179.1 1081.0,179.1 1082.0,179.1 1083.0,177.5 1084.0,174.3 1085.0,175.2 1086.0,178.3 1087.0,178.7 1088.0,178.1 1089.0,170.8 1090.0,146.7 1091.0,148.6 1092.0,165.5 1093.0,175.2 1094.0,177.3 1095.0,169.1 1096.0,158.0 1097.0,168.2 1098.0,174.8 1099.0,177.7 1100.0,178.8 1101.0,179.4 1102.0,178.9 1103.0,174.6 1104.0,158.1 1105.0,158.6 1106.0,170.0 1107.0,177.1 1108.0,178.2 1109.0,172.6 1110.0,151.9 1111.0,153.6 1112.0,168.2 1113.0,175.9 1114.0,178.3 1115.0,179.2 1116.0,179.3 1117.0,179.4 1118.0,178.2 1119.0,171.4 1120.0,170.7 1121.0,175.4 1122.0,178.0 1123.0,178.0 1124.0,169.6 1125.0,141.3 1126.0,143.6 1127.0,163.5 1128.0,173.9 1129.0,174.4 1130.0,165.5 1131.0,167.4 1132.0,174.4 1133.0,177.6 1134.0,179.9 1135.0,179.4 1136.0,179.4 1137.0,179.5 1138.0,177.1 1139.0,162.9 1140.0,149.8 1141.0,163.6 1142.0,174.2 1143.0,177.2 1144.0,173.4 1145.0,155.5 1146.0,156.3 1147.0,169.5 1148.0,176.0 1149.0,178.3 1150.0,179.2 1151.0,178.7 1152.0,177.7 1153.0,169.6 1154.0,170.7 1155.0,175.9 1156.0,178.0 1157.0,179.4 1158.0,175.8 1159.0,156.6 1160.0,146.6 1161.0,161.8 1162.0,173.7 1163.0,177.5 1164.0,177.2 1165.0,169.6 1166.0,171.5 1167.0,175.8 1168.0,178.3 1169.0,179.4 1170.0,180.1 1171.0,179.1 1172.0,179.3 1173.0,172.8 1174.0,150.1 1175.0,152.5 1176.0,167.5 1177.0,176.2 1178.0,177.3 1179.0,169.6 1180.0,154.6 1181.0,164.7 1182.0,173.7 1183.0,177.6 1184.0,178.8 1185.0,179.0 1186.0,179.2 1187.0,177.1 1188.0,166.6 1189.0,166.2 1190.0,173.3 1191.0,177.1 1192.0,179.1 1193.0,175.1 1194.0,158.1 1195.0,151.4 1196.0,166.8 1197.0,174.8 1198.0,177.9 1199.0,178.8 1200.0,176.7 1201.0,174.4 1202.0,176.6 1203.0,178.3 1204.0,178.8 1205.0,178.9 1206.0,179.4 1207.0,178.4 1208.0,172.1 1209.0,150.2 1210.0,151.5 1211.0,167.4 1212.0,175.1 1213.0,174.3 1214.0,163.3 1215.0,163.9 1216.0,172.5 1217.0,177.4 1218.0,178.6 1219.0,179.3 1220.0,179.1 1221.0,178.6 1222.0,174.3 1223.0,158.4 1224.0,159.2 1225.0,170.6 1226.0,177.0 1227.0,178.4 1228.0,174.8 1229.0,156.8 1230.0,155.1 1231.0,168.3 1232.0,174.9 1233.0,178.1 1234.0,179.1 1235.0,180.0 1236.0,178.2 1237.0,174.1 1238.0,174.2 1239.0,177.6 1240.0,178.4 1241.0,178.7 1242.0,178.2 1243.0,165.7 1244.0,141.6 1245.0,154.4 1246.0,169.0 1247.0,176.1 1248.0,175.2 1249.0,164.8 1250.0,165.2 1251.0,174.1 1252.0,177.8 1253.0,178.6 1254.0,179.4 1255.0,179.4 1256.0,179.2 1257.0,174.2 1258.0,156.2 1259.0,157.1 1260.0,169.5 1261.0,176.5 1262.0,177.1 1263.0,165.8 1264.0,149.3 1265.0,160.7 1266.0,172.4 1267.0,177.9 1268.0,178.9 1269.0,179.2 1270.0,179.0 1271.0,177.6 1272.0,172.5 1273.0,173.2 1274.0,176.7 1275.0,178.7 1276.0,178.8 1277.0,171.7 1278.0,150.0 1279.0,152.1 1280.0,167.4 1281.0,175.5 1282.0,177.6 1283.0,172.8 1284.0,162.8 1285.0,167.9 1286.0,175.4 1287.0,178.0 1288.0,179.0 1289.0,179.1 1290.0,179.5 1291.0,179.2 1292.0,171.8 1293.0,156.7 1294.0,162.4 1295.0,172.7 1296.0,175.8 1297.0,172.8 1298.0,152.1 1299.0,152.7 1300.0,168.0 1301.0,176.1 1302.0,178.1 1303.0,178.3 1304.0,178.1 1305.0,174.1 1306.0,175.3 1307.0,177.6 1308.0,178.6 1309.0,179.2 1310.0,179.6 1311.0,179.2 1312.0,171.9 1313.0,144.0 1314.0,140.8 1315.0,162.0 1316.0,173.1 1317.0,176.2 1318.0,166.4 1319.0,160.4 1320.0,170.3 1321.0,176.4 1322.0,178.9 1323.0,179.4 1324.0,179.9 1325.0,179.1 1326.0,175.0 1327.0,158.6 1328.0,157.0 1329.0,168.9 1330.0,175.3 1331.0,177.7 1332.0,172.2 1333.0,155.3 1334.0,157.1 1335.0,169.3 1336.0,175.8 1337.0,178.4 1338.0,178.9 1339.0,179.0 1340.0,177.6 1341.0,173.6 1342.0,173.4 1343.0,176.7 1344.0,179.2 1345.0,180.1 1346.0,176.2 1347.0,155.1 1348.0,137.7 1349.0,157.1 1350.0,171.8 1351.0,175.9 1352.0,167.8 1353.0,165.0 1354.0,171.7 1355.0,176.8 1356.0,179.7 1357.0,178.8 1358.0,179.5 1359.0,179.2 1360.0,179.1 1361.0,174.4 1362.0,156.4 1363.0,153.9 1364.0,168.1 1365.0,175.6 1366.0,177.0 1367.0,168.6 1368.0,153.0 1369.0,161.0 1370.0,172.3 1371.0,177.2 1372.0,179.4 1373.0,178.5 1374.0,179.2 1375.0,178.6 1376.0,171.7 1377.0,163.7 1378.0,170.7 1379.0,175.8 1380.0,178.0 1381.0,173.8 1382.0,154.0 1383.0,151.4 1384.0,167.2 1385.0,175.2 1386.0,177.0 1387.0,173.5 1388.0,169.1 1389.0,174.8 1390.0,177.7 1391.0,179.2 1392.0,179.6 1393.0,179.1 1394.0,178.9 1395.0,177.2 1396.0,162.2 1397.0,144.1 1398.0,159.7 1399.0,173.0 1400.0,176.3 1401.0,169.4 1402.0,152.9 1403.0,161.7 1404.0,172.7 1405.0,176.9 1406.0,179.0 1407.0,179.4 1408.0,179.4 1409.0,178.6 1410.0,176.8 1411.0,166.0 1412.0,162.8 1413.0,171.1 1414.0,176.6 1415.0,177.8 1416.0,168.7 1417.0,148.9 1418.0,157.5 1419.0,170.6 1420.0,176.5 1421.0,176.7 1422.0,172.8 1423.0,172.4 1424.0,176.4 1425.0,178.6 1426.0,179.6 1427.0,179.0 1428.0,179.1 1429.0,179.5 1430.0,172.1 1431.0,147.9 1432.0,145.0 1433.0,164.0 1434.0,173.7 1435.0,177.9 1436.0,170.0 1437.0,156.0 1438.0,163.8 1439.0,173.0 1440.0,177.7 1441.0,179.0 1442.0,179.7 1443.0,179.7 1444.0,178.5 1445.0,168.8 1446.0,157.8 1447.0,168.2 1448.0,175.7 1449.0,178.2 1450.0,178.1 1451.0,169.1 1452.0,149.1 1453.0,156.6 1454.0,170.4 1455.0,176.5 1456.0,177.3 1457.0,173.8 1458.0,173.9 1459.0,177.3 1460.0,178.0 1461.0,179.2 1462.0,179.8 1463.0,179.0 1464.0,178.7 1465.0,172.3 1466.0,147.2 1467.0,144.2 1468.0,163.1 1469.0,174.0 1470.0,176.9 1471.0,172.3 1472.0,160.7 1473.0,167.5 1474.0,174.4 1475.0,177.7 1476.0,179.2 1477.0,179.2 1478.0,180.0 1479.0,176.4 1480.0,163.6 1481.0,159.1 1482.0,169.9 1483.0,175.7 1484.0,177.5 1485.0,174.9 1486.0,156.8 1487.0,150.8 1488.0,165.8 1489.0,174.3 1490.0,178.2 1491.0,178.9 1492.0,179.7 1493.0,178.6 1494.0,176.0 1495.0,172.8 1496.0,176.6 1497.0,177.7 1498.0,178.3 1499.0,176.5 1500.0,161.0 1501.0,142.5 1502.0,159.3 1503.0,172.1 1504.0,176.9 1505.0,175.8 1506.0,163.6 1507.0,164.0 1508.0,171.8 1509.0,177.2 1510.0,178.9 1511.0,178.9 1512.0,179.4 1513.0,178.4 1514.0,171.5 1515.0,151.7 1516.0,156.1 1517.0,169.1 1518.0,176.4 1519.0,178.0 1520.0,171.2 1521.0,154.6 1522.0,161.3 1523.0,171.9 1524.0,176.8 1525.0,178.2 1526.0,179.1 1527.0,179.6 1528.0,178.4 1529.0,176.4 1530.0,170.7 1531.0,174.8 1532.0,177.5 1533.0,179.2 1534.0,177.1 1535.0,157.2 1536.0,133.9 1537.0,154.5 1538.0,169.7 1539.0,176.6 1540.0,176.5 1541.0,169.4 1542.0,168.5 1543.0,174.5 1544.0,177.3 1545.0,178.8 1546.0,179.6 1547.0,179.4 1548.0,179.2 1549.0,171.1 1550.0,151.0 1551.0,155.7 1552.0,169.1 1553.0,175.9 1554.0,176.2 1555.0,165.6 1556.0,151.2 1557.0,164.1 1558.0,173.2 1559.0,177.8 1560.0,179.6 1561.0,179.5 1562.0,179.3 1563.0,175.9 1564.0,166.0 1565.0,167.6 1566.0,174.7 1567.0,177.5 1568.0,177.5 1569.0,168.0 1570.0,145.9 1571.0,154.4 1572.0,169.4 1573.0,176.6 1574.0,178.1 1575.0,171.7 1576.0,166.5 1577.0,173.1 1578.0,177.0 1579.0,179.6 1580.0,178.9 1581.0,179.4 1582.0,180.1 1583.0,177.2 1584.0,162.8 1585.0,146.3 1586.0,161.3 1587.0,172.5 1588.0,177.4 1589.0,173.8 1590.0,158.4 1591.0,155.9 1592.0,168.7 1593.0,175.9 1594.0,177.9 1595.0,179.4 1596.0,179.2 1597.0,178.3 1598.0,171.3 1599.0,162.9 1600.0,170.1 1601.0,176.1 1602.0,178.5 1603.0,178.4 1604.0,169.9 1605.0,150.4 1606.0,157.5 1607.0,171.1 1608.0,176.5 1609.0,178.4 1610.0,176.1 1611.0,173.0 1612.0,175.9 1613.0,178.1 1614.0,178.5 1615.0,179.5 1616.0,179.9 1617.0,179.4 1618.0,176.9 1619.0,160.8 1620.0,142.7 1621.0,159.4 1622.0,171.4 1623.0,175.4 1624.0,168.7 1625.0,155.0 1626.0,164.9 1627.0,173.9 1628.0,177.5 1629.0,178.7 1630.0,180.1 1631.0,179.3 1632.0,178.8 1633.0,174.1 1634.0,164.6 1635.0,169.8 1636.0,175.8 1637.0,178.1 1638.0,176.6 1639.0,159.6 1640.0,150.4 1641.0,165.1 1642.0,174.1 1643.0,178.1 1644.0,178.9 1645.0,177.4 1646.0,174.7 1647.0,176.8 1648.0,177.9 1649.0,179.1 1650.0,178.8 1651.0,179.1 1652.0,179.3 1653.0,172.2 1654.0,150.2 1655.0,151.8 1656.0,166.9 1657.0,175.0 1658.0,177.1 1659.0,167.8 1660.0,160.3 1661.0,169.9 1662.0,175.7 1663.0,178.7 1664.0,179.1 1665.0,179.2 1666.0,180.1 1667.0,177.8 1668.0,171.5 1669.0,162.3 1670.0,170.2 1671.0,175.5 1672.0,178.0 1673.0,171.3 1674.0,153.9 1675.0,160.7 1676.0,171.7 1677.0,177.3 1678.0,178.6 1679.0,179.9"/>
<polyline fill="none" stroke="#61d813" stroke-width="3" stroke-linejoin="round" shape-rendering="crispEdges" points="195.5,891.5 196.0,891.5 196.5,891.5 197.0,891.5 197.5,891.5 198.0,891.5 198.5,891.5 199.0,891.5 199.5,891.5 200.0,891.5 200.5,891.5 201.0,890.7 201.5,889.8 202.0,889.0 202.5,887.3 203.0,885.6 203.5,883.9 204.0,880.3 204.5,876.7 205.0,873.2 205.5,866.0 206.0,856.5 206.5,846.9 207.0,838.6 207.5,830.3 208.0,822.1 208.5,811.7 209.0,801.4 209.5,791.7 210.0,782.6 210.5,773.5 211.0,761.8 211.5,748.5 212.0,735.1 212.5,721.8 213.0,708.4 213.5,697.2 214.0,689.2 214.5,681.3 215.0,673.3 215.5,665.4 216.0,657.4 216.5,649.4 217.0,641.5 217.5,634.3 218.0,628.3 218.5,622.4 219.0,616.4 219.5,610.4 220.0,604.4 220.5,598.5 221.0,593.2 221.5,587.8 222.0,582.5 222.5,577.2 223.0,571.9 223.5,566.6 224.0,559.6 224.5,552.7 225.0,545.7 225.5,538.7 226.0,531.8 226.5,524.8 227.0,517.6 227.5,510.3 228.0,516.2 228.5,512.5 229.0,500.3 229.5,502.7 230.0,503.4 230.5,491.0 231.0,484.2 231.5,492.0 232.0,495.9 233.0,460.4 234.0,451.9 235.0,488.3 236.0,494.5 237.0,462.6 238.0,454.4 239.0,480.6 240.0,486.0 241.0,477.4 242.0,461.2 243.0,480.9 244.0,491.8 245.0,494.6 246.0,509.6 247.0,510.7 248.0,507.1 249.0,508.8 250.0,513.2 251.0,508.2 252.0,501.0 253.0,505.8 254.0,511.9 255.0,505.2 256.0,507.2 257.0,511.5 258.0,514.9 259.0,507.0 260.0,512.4 261.0,506.1 262.0,502.3 263.0,492.1 264.0,462.9 265.0,472.9 266.0,489.8 267.0,496.3 268.0,503.3 269.0,494.8 270.0,474.1 271.0,476.7 272.0,492.8 273.0,509.0 274.0,506.2 275.0,509.0 276.0,505.4 277.0,507.2 278.0,491.3 279.0,490.6 280.0,506.8 281.0,497.3 282.0,503.9 283.0,501.5 284.0,452.9 285.0,438.1 286.0,476.9 287.0,489.6 288.0,501.8 289.0,490.7 290.0,457.5 291.0,472.9 292.0,496.9 293.0,496.1 294.0,502.5 295.0,505.0 296.0,509.5 297.0,501.0 298.0,493.4 299.0,484.5 300.0,482.5 301.0,490.2 302.0,494.0 303.0,499.0 304.0,478.6 305.0,478.8 306.0,498.6 307.0,507.7 308.0,508.7 309.0,514.5 310.0,516.1 311.0,506.1 312.0,493.2 313.0,484.5 314.0,493.3 315.0,502.9 316.0,506.1 317.0,496.7 318.0,487.7 319.0,470.8 320.0,478.8 321.0,503.5 322.0,507.4 323.0,500.4 324.0,473.5 325.0,469.1 326.0,484.2 327.0,500.3 328.0,500.5 329.0,502.3 330.0,502.5 331.0,508.0 332.0,491.5 333.0,468.6 334.0,461.8 335.0,482.6 336.0,494.6 337.0,507.5 338.0,494.1 339.0,469.5 340.0,473.5 341.0,501.8 342.0,505.3 343.0,507.3 344.0,506.3 345.0,510.5 346.0,503.4 347.0,485.2 348.0,475.2 349.0,500.5 350.0,501.1 351.0,503.6 352.0,494.0 353.0,471.2 354.0,463.1 355.0,490.5 356.0,506.0 357.0,500.0 358.0,494.7 359.0,478.7 360.0,490.8 361.0,498.7 362.0,504.9 363.0,520.2 364.0,502.3 365.0,491.6 366.0,507.1 367.0,508.1 368.0,482.7 369.0,475.8 370.0,495.4 371.0,501.0 372.0,488.3 373.0,487.0 374.0,495.4 375.0,496.6 376.0,502.1 377.0,507.9 378.0,504.9 379.0,505.0 380.0,502.6 381.0,492.7 382.0,472.5 383.0,456.0 384.0,474.7 385.0,499.8 386.0,509.8 387.0,502.9 388.0,477.6 389.0,482.8 390.0,491.6 391.0,487.0 392.0,483.1 393.0,479.8 394.0,469.6 395.0,489.3 396.0,498.3 397.0,509.0 398.0,514.3 399.0,516.9 400.0,510.4 401.0,502.5 402.0,487.6 403.0,471.1 404.0,475.7 405.0,496.4 406.0,495.7 407.0,488.7 408.0,478.0 409.0,490.0 410.0,495.0 411.0,496.8 412.0,490.8 413.0,504.3 414.0,510.9 415.0,503.1 416.0,498.0 417.0,488.0 418.0,489.2 419.0,502.6 420.0,499.2 421.0,498.3 422.0,493.9 423.0,467.2 424.0,472.3 425.0,499.6 426.0,489.7 427.0,484.2 428.0,464.7 429.0,483.1 430.0,499.8 431.0,504.8 432.0,505.6 433.0,507.0 434.0,508.4 435.0,501.7 436.0,485.0 437.0,458.5 438.0,466.2 439.0,489.2 440.0,505.0 441.0,512.2 442.0,511.1 443.0,483.4 444.0,479.3 445.0,504.2 446.0,510.9 447.0,508.9 448.0,505.3 449.0,503.2 450.0,503.8 451.0,468.3 452.0,454.6 453.0,480.2 454.0,495.0 455.0,508.8 456.0,505.3 457.0,461.6 458.0,452.1 459.0,482.8 460.0,493.1 461.0,495.3 462.0,481.5 463.0,479.1 464.0,498.6 465.0,499.3 466.0,504.7 467.0,517.1 468.0,511.6 469.0,506.8 470.0,497.6 471.0,488.4 472.0,470.6 473.0,482.8 474.0,494.8 475.0,507.1 476.0,494.5 477.0,482.7 478.0,474.4 479.0,496.5 480.0,510.4 481.0,506.8 482.0,504.7 483.0,497.9 484.0,500.3 485.0,494.2 486.0,472.8 487.0,484.2 488.0,497.9 489.0,502.0 490.0,509.2 491.0,505.7 492.0,488.6 493.0,455.9 494.0,469.3 495.0,479.6 496.0,487.9 497.0,487.6 498.0,487.4 499.0,490.6 500.0,494.9 501.0,487.4 502.0,488.9 503.0,492.6 504.0,492.1 505.0,489.4 506.0,464.5 507.0,455.6 508.0,474.3 509.0,484.2 510.0,488.5 511.0,483.6 512.0,459.1 513.0,454.4 514.0,464.3 515.0,477.9 516.0,489.4 517.0,492.2 518.0,498.8 519.0,495.5 520.0,470.1 521.0,442.0 522.0,459.9 523.0,479.9 524.0,489.0 525.0,487.2 526.0,466.5 527.0,449.6 528.0,469.3 529.0,479.3 530.0,487.6 531.0,486.5 532.0,480.9 533.0,488.5 534.0,489.1 535.0,491.4 536.0,487.7 537.0,489.9 538.0,482.5 539.0,486.7 540.0,481.5 541.0,455.3 542.0,462.8 543.0,485.7 544.0,489.8 545.0,490.2 546.0,480.7 547.0,463.7 548.0,475.2 549.0,493.5 550.0,496.2 551.0,491.6 552.0,485.8 553.0,489.4 554.0,486.0 555.0,468.6 556.0,454.7 557.0,473.9 558.0,488.1 559.0,482.2 560.0,466.7 561.0,453.7 562.0,462.0 563.0,477.5 564.0,491.6 565.0,491.8 566.0,481.8 567.0,471.8 568.0,484.6 569.0,482.1 570.0,489.5 571.0,496.4 572.0,489.1 573.0,486.0 574.0,490.1 575.0,470.8 576.0,435.1 577.0,438.8 578.0,473.5 579.0,481.7 580.0,487.6 581.0,464.8 582.0,452.7 583.0,467.9 584.0,482.9 585.0,488.8 586.0,492.9 587.0,493.7 588.0,491.5 589.0,484.6 590.0,459.1 591.0,463.7 592.0,476.2 593.0,484.3 594.0,489.9 595.0,485.8 596.0,459.7 597.0,464.5 598.0,479.2 599.0,489.0 600.0,495.5 601.0,492.4 602.0,496.0 603.0,490.0 604.0,472.5 605.0,462.2 606.0,474.6 607.0,478.6 608.0,487.2 609.0,482.7 610.0,457.7 611.0,429.2 612.0,451.6 613.0,472.2 614.0,482.0 615.0,480.3 616.0,460.6 617.0,469.0 618.0,482.7 619.0,483.5 620.0,491.2 621.0,490.1 622.0,493.2 623.0,492.6 624.0,483.9 625.0,459.7 626.0,482.0 627.0,481.8 628.0,484.1 629.0,479.9 630.0,467.0 631.0,448.3 632.0,467.9 633.0,481.6 634.0,485.5 635.0,489.6 636.0,495.4 637.0,489.3 638.0,484.7 639.0,474.8 640.0,462.4 641.0,477.0 642.0,484.8 643.0,485.6 644.0,470.9 645.0,439.6 646.0,450.3 647.0,468.2 648.0,483.9 649.0,487.5 650.0,484.1 651.0,470.8 652.0,473.9 653.0,482.5 654.0,480.8 655.0,483.1 656.0,491.0 657.0,492.6 658.0,484.7 659.0,462.4 660.0,461.5 661.0,472.9 662.0,483.8 663.0,490.3 664.0,478.7 665.0,450.3 666.0,452.6 667.0,477.8 668.0,490.7 669.0,491.8 670.0,494.6 671.0,488.8 672.0,489.9 673.0,476.3 674.0,470.7 675.0,473.1 676.0,478.6 677.0,493.1 678.0,489.5 679.0,460.6 680.0,436.6 681.0,464.5 682.0,479.2 683.0,487.1 684.0,480.1 685.0,463.4 686.0,467.2 687.0,477.0 688.0,482.4 689.0,487.8 690.0,492.9 691.0,490.6 692.0,489.4 693.0,468.5 694.0,456.6 695.0,478.2 696.0,485.5 697.0,493.1 698.0,488.4 699.0,478.6 700.0,459.4 701.0,473.8 702.0,484.7 703.0,488.5 704.0,481.6 705.0,482.4 706.0,485.3 707.0,485.3 708.0,482.0 709.0,477.5 710.0,485.6 711.0,489.5 712.0,498.1 713.0,491.4 714.0,464.4 715.0,450.4 716.0,471.7 717.0,481.9 718.0,477.2 719.0,477.3 720.0,475.5 721.0,479.1 722.0,483.0 723.0,491.2 724.0,498.0 725.0,490.7 726.0,487.9 727.0,487.0 728.0,470.3 729.0,447.0 730.0,464.3 731.0,480.0 732.0,493.7 733.0,492.2 734.0,467.9 735.0,442.0 736.0,461.3 737.0,476.0 738.0,485.5 739.0,488.4 740.0,484.9 741.0,492.9 742.0,487.5 743.0,471.5 744.0,470.2 745.0,482.1 746.0,492.3 747.0,495.5 748.0,481.5 749.0,448.1 750.0,448.3 751.0,470.5 752.0,478.6 753.0,484.2 754.0,483.0 755.0,471.3 756.0,475.3 757.0,489.5 758.0,498.1 759.0,494.5 760.0,490.0 761.0,494.4 762.0,486.5 763.0,470.5 764.0,449.2 765.0,469.2 766.0,481.2 767.0,488.0 768.0,479.9 769.0,462.0 770.0,457.2 771.0,471.1 772.0,482.2 773.0,483.7 774.0,487.1 775.0,488.8 776.0,497.4 777.0,492.6 778.0,469.4 779.0,472.7 780.0,478.4 781.0,487.8 782.0,486.6 783.0,469.1 784.0,446.5 785.0,466.3 786.0,489.3 787.0,494.6 788.0,490.3 789.0,483.9 790.0,477.0 791.0,488.4 792.0,490.2 793.0,489.3 794.0,490.1 795.0,494.2 796.0,484.9 797.0,486.5 798.0,464.5 799.0,452.2 800.0,473.0 801.0,480.5 802.0,490.3 803.0,480.7 804.0,461.4 805.0,471.2 806.0,483.2 807.0,487.7 808.0,488.1 809.0,486.7 810.0,492.4 811.0,492.1 812.0,469.8 813.0,454.2 814.0,473.0 815.0,481.1 816.0,484.3 817.0,476.5 818.0,466.2 819.0,459.6 820.0,471.5 821.0,484.9 822.0,485.4 823.0,489.0 824.0,483.0 825.0,482.6 826.0,482.8 827.0,488.9 828.0,486.8 829.0,493.9 830.0,489.3 831.0,487.4 832.0,481.7 833.0,459.2 834.0,461.1 835.0,476.7 836.0,488.9 837.0,482.1 838.0,459.0 839.0,450.3 840.0,469.5 841.0,487.3 842.0,492.6 843.0,489.3 844.0,484.6 845.0,490.1 846.0,489.1 847.0,468.2 848.0,455.6 849.0,471.7 850.0,477.1 851.0,484.4 852.0,483.2 853.0,449.8 854.0,458.2 855.0,474.3 856.0,483.3 857.0,484.6 858.0,496.1 859.0,493.9 860.0,493.4 861.0,486.9 862.0,471.5 863.0,476.0 864.0,485.5 865.0,490.4 866.0,473.2 867.0,437.1 868.0,451.2 869.0,473.5 870.0,489.1 871.0,491.9 872.0,480.8 873.0,459.0 874.0,470.0 875.0,481.0 876.0,487.7 877.0,490.4 878.0,491.0 879.0,485.9 880.0,485.1 881.0,474.8 882.0,449.5 883.0,463.2 884.0,477.6 885.0,481.7 886.0,485.2 887.0,470.7 888.0,460.2 889.0,470.9 890.0,483.3 891.0,490.8 892.0,488.6 893.0,483.2 894.0,481.1 895.0,484.4 896.0,477.8 897.0,473.4 898.0,480.9 899.0,478.9 900.0,489.1 901.0,491.6 902.0,470.9 903.0,462.0 904.0,466.4 905.0,474.0 906.0,487.6 907.0,480.0 908.0,460.9 909.0,475.1 910.0,480.9 911.0,479.0 912.0,494.2 913.0,488.9 914.0,488.2 915.0,486.1 916.0,475.4 917.0,462.9 918.0,473.8 919.0,486.7 920.0,487.8 921.0,488.1 922.0,474.2 923.0,459.4 924.0,469.6 925.0,484.3 926.0,487.7 927.0,487.1 928.0,490.3 929.0,492.3 930.0,483.8 931.0,471.7 932.0,473.9 933.0,477.1 934.0,491.7 935.0,494.0 936.0,484.3 937.0,452.7 938.0,449.0 939.0,475.0 940.0,486.0 941.0,487.5 942.0,482.4 943.0,461.5 944.0,467.5 945.0,479.7 946.0,486.6 947.0,490.1 948.0,488.9 949.0,497.5 950.0,487.0 951.0,465.4 952.0,468.5 953.0,481.7 954.0,481.2 955.0,487.1 956.0,481.0 957.0,461.4 958.0,468.0 959.0,485.7 960.0,488.7 961.0,495.2 962.0,490.9 963.0,493.9 964.0,492.4 965.0,476.5 966.0,464.7 967.0,472.0 968.0,482.3 969.0,482.3 970.0,483.2 971.0,470.1 972.0,448.6 973.0,471.4 974.0,476.0 975.0,485.8 976.0,487.6 977.0,482.0 978.0,472.2 979.0,478.2 980.0,482.3 981.0,491.0 982.0,497.8 983.0,492.4 984.0,489.7 985.0,476.2 986.0,440.1 987.0,451.0 988.0,475.6 989.0,481.9 990.0,487.2 991.0,479.6 992.0,464.5 993.0,475.2 994.0,479.6 995.0,485.8 996.0,487.7 997.0,487.2 998.0,495.2 999.0,488.7 1000.0,463.2 1001.0,452.9 1002.0,471.6 1003.0,488.8 1004.0,488.5 1005.0,483.5 1006.0,457.6 1007.0,443.7 1008.0,471.8 1009.0,486.5 1010.0,488.9 1011.0,490.2 1012.0,465.9 1013.0,466.4 1014.0,471.8 1015.0,483.3 1016.0,491.8 1017.0,493.2 1018.0,497.2 1019.0,488.3 1020.0,469.7 1021.0,449.0 1022.0,462.0 1023.0,484.0 1024.0,489.4 1025.0,477.8 1026.0,457.0 1027.0,469.7 1028.0,483.9 1029.0,496.5 1030.0,491.8 1031.0,485.8 1032.0,483.7 1033.0,490.3 1034.0,478.5 1035.0,467.0 1036.0,465.4 1037.0,477.4 1038.0,486.0 1039.0,494.5 1040.0,480.2 1041.0,443.1 1042.0,447.7 1043.0,472.5 1044.0,485.4 1045.0,485.4 1046.0,487.6 1047.0,472.5 1048.0,476.6 1049.0,486.0 1050.0,489.7 1051.0,494.7 1052.0,495.6 1053.0,489.9 1054.0,479.1 1055.0,448.7 1056.0,428.3 1057.0,458.5 1058.0,482.5 1059.0,483.5 1060.0,479.4 1061.0,463.5 1062.0,469.6 1063.0,481.7 1064.0,492.0 1065.0,493.3 1066.0,494.7 1067.0,490.6 1068.0,494.0 1069.0,477.4 1070.0,448.6 1071.0,466.1 1072.0,475.3 1073.0,484.1 1074.0,478.4 1075.0,462.6 1076.0,456.2 1077.0,475.2 1078.0,486.4 1079.0,490.9 1080.0,492.9 1081.0,488.6 1082.0,487.6 1083.0,489.2 1084.0,478.7 1085.0,479.3 1086.0,486.2 1087.0,496.0 1088.0,490.8 1089.0,482.9 1090.0,466.0 1091.0,467.1 1092.0,475.7 1093.0,488.7 1094.0,487.7 1095.0,473.9 1096.0,454.9 1097.0,471.7 1098.0,487.5 1099.0,488.3 1100.0,494.5 1101.0,487.5 1102.0,485.6 1103.0,484.0 1104.0,463.7 1105.0,464.2 1106.0,477.7 1107.0,485.3 1108.0,490.8 1109.0,480.6 1110.0,446.8 1111.0,453.4 1112.0,472.4 1113.0,482.7 1114.0,487.0 1115.0,485.5 1116.0,487.7 1117.0,487.8 1118.0,486.9 1119.0,474.5 1120.0,469.4 1121.0,484.8 1122.0,490.7 1123.0,490.9 1124.0,485.2 1125.0,445.2 1126.0,447.3 1127.0,472.6 1128.0,479.8 1129.0,481.2 1130.0,461.7 1131.0,464.0 1132.0,480.1 1133.0,481.1 1134.0,488.9 1135.0,485.9 1136.0,489.3 1137.0,494.0 1138.0,489.4 1139.0,468.0 1140.0,453.6 1141.0,472.6 1142.0,483.5 1143.0,486.7 1144.0,485.0 1145.0,460.5 1146.0,456.6 1147.0,473.6 1148.0,481.0 1149.0,489.4 1150.0,487.7 1151.0,482.9 1152.0,477.4 1153.0,461.4 1154.0,472.6 1155.0,484.8 1156.0,484.3 1157.0,483.0 1158.0,479.1 1159.0,478.6 1160.0,468.2 1161.0,480.5 1162.0,486.9 1163.0,490.8 1164.0,480.2 1165.0,461.2 1166.0,465.0 1167.0,484.9 1168.0,492.2 1169.0,494.6 1170.0,491.4 1171.0,486.4 1172.0,483.2 1173.0,477.9 1174.0,439.9 1175.0,440.0 1176.0,460.8 1177.0,484.7 1178.0,481.5 1179.0,476.7 1180.0,460.1 1181.0,473.2 1182.0,485.8 1183.0,490.2 1184.0,491.3 1185.0,487.5 1186.0,485.6 1187.0,481.4 1188.0,459.1 1189.0,451.0 1190.0,472.2 1191.0,485.4 1192.0,498.1 1193.0,485.9 1194.0,462.0 1195.0,449.4 1196.0,463.4 1197.0,479.0 1198.0,491.2 1199.0,486.1 1200.0,478.0 1201.0,472.4 1202.0,480.0 1203.0,480.1 1204.0,484.3 1205.0,485.3 1206.0,493.5 1207.0,483.8 1208.0,470.5 1209.0,444.3 1210.0,440.8 1211.0,471.6 1212.0,487.1 1213.0,485.0 1214.0,465.7 1215.0,461.5 1216.0,481.3 1217.0,487.6 1218.0,485.2 1219.0,486.2 1220.0,497.0 1221.0,487.6 1222.0,478.0 1223.0,464.3 1224.0,461.8 1225.0,479.7 1226.0,490.4 1227.0,486.6 1228.0,479.8 1229.0,446.5 1230.0,451.5 1231.0,473.5 1232.0,485.8 1233.0,488.3 1234.0,494.6 1235.0,487.1 1236.0,492.4 1237.0,479.9 1238.0,478.8 1239.0,480.8 1240.0,487.9 1241.0,488.6 1242.0,493.9 1243.0,472.1 1244.0,443.9 1245.0,459.7 1246.0,483.6 1247.0,486.1 1248.0,482.1 1249.0,471.7 1250.0,472.2 1251.0,490.3 1252.0,485.0 1253.0,486.2 1254.0,484.3 1255.0,482.2 1256.0,490.3 1257.0,482.0 1258.0,462.1 1259.0,471.2 1260.0,475.8 1261.0,480.9 1262.0,488.8 1263.0,459.2 1264.0,425.6 1265.0,453.4 1266.0,479.6 1267.0,490.3 1268.0,497.1 1269.0,495.3 1270.0,492.8 1271.0,489.7 1272.0,470.6 1273.0,477.9 1274.0,489.7 1275.0,495.6 1276.0,498.2 1277.0,484.4 1278.0,459.5 1279.0,460.0 1280.0,478.1 1281.0,487.2 1282.0,488.4 1283.0,480.4 1284.0,467.7 1285.0,476.5 1286.0,481.7 1287.0,478.7 1288.0,485.3 1289.0,483.9 1290.0,491.5 1291.0,492.3 1292.0,486.8 1293.0,457.6 1294.0,463.8 1295.0,480.5 1296.0,488.9 1297.0,479.6 1298.0,452.1 1299.0,453.8 1300.0,483.0 1301.0,482.9 1302.0,486.3 1303.0,490.5 1304.0,486.2 1305.0,470.9 1306.0,475.5 1307.0,489.8 1308.0,484.5 1309.0,488.4 1310.0,485.1 1311.0,490.2 1312.0,479.7 1313.0,437.0 1314.0,431.1 1315.0,468.7 1316.0,482.4 1317.0,485.5 1318.0,471.2 1319.0,452.0 1320.0,472.7 1321.0,488.5 1322.0,495.1 1323.0,498.6 1324.0,491.9 1325.0,493.2 1326.0,484.5 1327.0,454.7 1328.0,452.4 1329.0,471.7 1330.0,485.2 1331.0,492.4 1332.0,483.3 1333.0,456.7 1334.0,456.1 1335.0,467.0 1336.0,480.0 1337.0,490.7 1338.0,489.8 1339.0,487.2 1340.0,486.2 1341.0,468.8 1342.0,470.4 1343.0,479.7 1344.0,489.9 1345.0,492.2 1346.0,480.1 1347.0,457.3 1348.0,448.7 1349.0,461.0 1350.0,477.3 1351.0,485.6 1352.0,476.8 1353.0,462.5 1354.0,480.6 1355.0,484.3 1356.0,484.2 1357.0,491.5 1358.0,490.9 1359.0,489.6 1360.0,495.8 1361.0,484.7 1362.0,449.5 1363.0,443.0 1364.0,469.9 1365.0,489.0 1366.0,489.6 1367.0,477.0 1368.0,448.0 1369.0,467.0 1370.0,480.4 1371.0,486.2 1372.0,485.8 1373.0,481.0 1374.0,481.3 1375.0,487.7 1376.0,481.3 1377.0,467.1 1378.0,473.8 1379.0,481.3 1380.0,485.7 1381.0,482.1 1382.0,454.1 1383.0,449.3 1384.0,479.4 1385.0,484.6 1386.0,483.7 1387.0,482.9 1388.0,473.5 1389.0,485.5 1390.0,489.5 1391.0,486.5 1392.0,486.6 1393.0,489.0 1394.0,489.0 1395.0,486.2 1396.0,463.6 1397.0,437.2 1398.0,464.6 1399.0,485.3 1400.0,488.2 1401.0,459.3 1402.0,429.5 1403.0,449.7 1404.0,478.7 1405.0,495.1 1406.0,491.2 1407.0,489.0 1408.0,491.4 1409.0,495.5 1410.0,486.5 1411.0,457.5 1412.0,448.3 1413.0,476.3 1414.0,485.5 1415.0,485.3 1416.0,472.0 1417.0,446.8 1418.0,459.5 1419.0,478.6 1420.0,491.7 1421.0,488.8 1422.0,476.5 1423.0,486.5 1424.0,489.3 1425.0,490.7 1426.0,491.7 1427.0,498.2 1428.0,494.5 1429.0,484.0 1430.0,475.7 1431.0,453.0 1432.0,446.3 1433.0,468.6 1434.0,486.0 1435.0,490.3 1436.0,483.1 1437.0,468.3 1438.0,468.1 1439.0,474.8 1440.0,485.7 1441.0,494.1 1442.0,496.4 1443.0,489.5 1444.0,488.9 1445.0,474.0 1446.0,455.6 1447.0,466.4 1448.0,480.3 1449.0,494.9 1450.0,502.3 1451.0,479.3 1452.0,448.8 1453.0,462.5 1454.0,480.0 1455.0,485.3 1456.0,486.0 1457.0,473.6 1458.0,470.2 1459.0,481.7 1460.0,489.7 1461.0,485.2 1462.0,487.3 1463.0,488.7 1464.0,489.9 1465.0,484.9 1466.0,458.3 1467.0,445.7 1468.0,461.8 1469.0,475.2 1470.0,482.7 1471.0,480.8 1472.0,468.1 1473.0,469.7 1474.0,479.7 1475.0,481.2 1476.0,483.9 1477.0,491.0 1478.0,487.9 1479.0,482.8 1480.0,462.2 1481.0,460.3 1482.0,469.1 1483.0,477.3 1484.0,491.0 1485.0,484.0 1486.0,462.7 1487.0,447.6 1488.0,470.0 1489.0,483.8 1490.0,485.8 1491.0,490.3 1492.0,487.4 1493.0,484.4 1494.0,483.6 1495.0,467.4 1496.0,476.2 1497.0,488.6 1498.0,494.3 1499.0,490.6 1500.0,462.8 1501.0,429.7 1502.0,451.6 1503.0,478.5 1504.0,492.9 1505.0,484.7 1506.0,466.4 1507.0,462.4 1508.0,477.2 1509.0,486.1 1510.0,489.0 1511.0,489.7 1512.0,495.9 1513.0,494.2 1514.0,486.5 1515.0,461.5 1516.0,464.1 1517.0,477.8 1518.0,492.5 1519.0,496.6 1520.0,485.2 1521.0,451.6 1522.0,454.0 1523.0,475.1 1524.0,484.2 1525.0,492.2 1526.0,492.7 1527.0,492.5 1528.0,486.5 1529.0,475.7 1530.0,464.2 1531.0,472.7 1532.0,486.9 1533.0,492.0 1534.0,484.9 1535.0,456.4 1536.0,429.1 1537.0,459.5 1538.0,478.2 1539.0,494.4 1540.0,483.3 1541.0,465.3 1542.0,469.3 1543.0,477.0 1544.0,482.6 1545.0,491.9 1546.0,498.0 1547.0,491.1 1548.0,488.8 1549.0,475.7 1550.0,434.1 1551.0,439.1 1552.0,470.7 1553.0,492.5 1554.0,496.9 1555.0,476.8 1556.0,471.9 1557.0,478.0 1558.0,486.1 1559.0,494.1 1560.0,493.1 1561.0,491.5 1562.0,492.9 1563.0,481.7 1564.0,459.7 1565.0,462.5 1566.0,477.9 1567.0,487.1 1568.0,490.2 1569.0,475.1 1570.0,448.3 1571.0,452.2 1572.0,467.2 1573.0,479.6 1574.0,487.0 1575.0,477.8 1576.0,479.7 1577.0,489.1 1578.0,489.1 1579.0,488.7 1580.0,486.2 1581.0,486.8 1582.0,495.6 1583.0,489.3 1584.0,466.7 1585.0,444.4 1586.0,467.5 1587.0,483.6 1588.0,484.6 1589.0,484.9 1590.0,465.5 1591.0,458.1 1592.0,473.4 1593.0,488.0 1594.0,490.9 1595.0,491.7 1596.0,491.9 1597.0,495.0 1598.0,481.3 1599.0,457.9 1600.0,466.2 1601.0,476.3 1602.0,481.5 1603.0,491.1 1604.0,473.8 1605.0,437.1 1606.0,453.2 1607.0,478.3 1608.0,484.4 1609.0,482.5 1610.0,482.6 1611.0,476.0 1612.0,475.7 1613.0,482.0 1614.0,490.9 1615.0,485.8 1616.0,493.1 1617.0,490.4 1618.0,480.5 1619.0,459.9 1620.0,447.2 1621.0,466.5 1622.0,475.2 1623.0,480.1 1624.0,473.7 1625.0,456.3 1626.0,469.3 1627.0,483.3 1628.0,481.4 1629.0,482.6 1630.0,489.5 1631.0,488.2 1632.0,491.2 1633.0,479.9 1634.0,457.6 1635.0,470.9 1636.0,487.6 1637.0,488.0 1638.0,480.1 1639.0,462.6 1640.0,455.2 1641.0,466.8 1642.0,482.3 1643.0,490.4 1644.0,480.6 1645.0,476.8 1646.0,470.7 1647.0,480.3 1648.0,483.0 1649.0,486.3 1650.0,483.9 1651.0,485.0 1652.0,484.6 1653.0,476.2 1654.0,450.2 1655.0,448.1 1656.0,474.0 1657.0,488.3 1658.0,489.2 1659.0,474.8 1660.0,462.1 1661.0,475.0 1662.0,481.1 1663.0,482.8 1664.0,484.3 1665.0,490.8 1666.0,488.1 1667.0,486.4 1668.0,473.2 1669.0,457.5 1670.0,473.3 1671.0,490.6 1672.0,488.6 1673.0,477.8 1674.0,455.6 1675.0,465.6 1676.0,484.4 1677.0,490.0 1678.0,496.5 1679.0,494.8"/>
<polyline fill="none" stroke="#cc33ff" stroke-width="3" stroke-linejoin="round" shape-rendering="crispEdges" points="195.5,891.5 196.0,891.5 196.5,891.5 197.0,891.5 197.5,891.5 198.0,891.5 198.5,891.5 199.0,891.5 199.5,891.5 200.0,891.5 200.5,891.1 201.0,890.7 201.5,890.2 202.0,889.0 202.5,887.7 203.0,885.9 203.5,883.7 204.0,879.7 204.5,875.7 205.0,871.8 205.5,862.2 206.0,852.6 206.5,843.4 207.0,834.5 207.5,825.6 208.0,815.3 208.5,804.0 209.0,792.2 209.5,779.8 210.0,762.3 210.5,737.2 211.0,712.1 211.5,686.9 212.0,661.8 212.5,636.7 213.0,620.8 213.5,604.8 214.0,591.1 214.5,586.2 215.0,581.3 215.5,576.4 216.0,571.5 216.5,566.6 217.0,553.6 217.5,540.6 218.0,527.5 218.5,514.5 219.0,504.0 219.5,495.1 220.0,486.3 220.5,477.4 221.0,460.4 221.5,443.3 222.0,426.2 222.5,409.2 223.0,392.1 223.5,376.1 224.0,361.6 224.5,347.1 225.0,332.6 225.5,318.2 226.0,305.4 226.5,292.7 227.0,279.9 227.5,263.4 228.0,246.8 228.5,246.5 229.0,246.2 229.5,245.9 230.0,245.7 230.5,245.4 231.0,245.1 231.5,244.9 232.0,229.8 233.0,201.4 234.0,199.9 235.0,212.7 236.0,215.8 237.0,204.5 238.0,200.4 239.0,213.0 240.0,218.8 241.0,208.7 242.0,198.8 243.0,217.3 244.0,230.5 245.0,235.8 246.0,239.5 247.0,240.8 248.0,242.3 249.0,242.7 250.0,244.0 251.0,244.8 252.0,245.2 253.0,244.0 254.0,245.1 255.0,245.2 256.0,244.5 257.0,244.6 258.0,245.0 259.0,244.4 260.0,245.5 261.0,245.1 262.0,244.6 263.0,233.3 264.0,211.2 265.0,218.9 266.0,234.4 267.0,241.4 268.0,244.3 269.0,242.4 270.0,236.7 271.0,238.4 272.0,242.8 273.0,245.0 274.0,244.4 275.0,244.5 276.0,245.2 277.0,243.5 278.0,238.1 279.0,236.4 280.0,241.7 281.0,243.6 282.0,244.4 283.0,236.7 284.0,209.1 285.0,206.4 286.0,227.1 287.0,238.6 288.0,243.4 289.0,240.2 290.0,232.4 291.0,236.6 292.0,241.8 293.0,244.6 294.0,245.3 295.0,244.9 296.0,244.8 297.0,244.6 298.0,236.5 299.0,218.9 300.0,226.2 301.0,237.4 302.0,242.5 303.0,239.8 304.0,224.9 305.0,223.3 306.0,235.3 307.0,241.4 308.0,243.8 309.0,244.8 310.0,244.4 311.0,245.3 312.0,241.7 313.0,235.9 314.0,237.8 315.0,241.4 316.0,244.0 317.0,243.8 318.0,233.5 319.0,209.7 320.0,218.6 321.0,234.3 322.0,241.1 323.0,240.5 324.0,233.2 325.0,234.7 326.0,240.5 327.0,243.5 328.0,244.3 329.0,245.0 330.0,244.3 331.0,244.8 332.0,239.4 333.0,222.7 334.0,219.9 335.0,233.7 336.0,240.5 337.0,242.2 338.0,234.8 339.0,220.1 340.0,229.0 341.0,238.8 342.0,244.1 343.0,243.8 344.0,244.3 345.0,244.4 346.0,244.3 347.0,237.8 348.0,236.3 349.0,240.2 350.0,244.0 351.0,244.5 352.0,240.5 353.0,221.7 354.0,212.0 355.0,228.4 356.0,238.5 357.0,242.9 358.0,236.4 359.0,229.8 360.0,236.0 361.0,241.7 362.0,243.5 363.0,244.8 364.0,245.0 365.0,245.0 366.0,244.9 367.0,238.9 368.0,220.7 369.0,221.7 370.0,234.4 371.0,241.4 372.0,240.1 373.0,226.1 374.0,221.5 375.0,234.5 376.0,240.9 377.0,243.2 378.0,244.3 379.0,244.4 380.0,244.3 381.0,244.5 382.0,238.7 383.0,235.9 384.0,240.6 385.0,243.8 386.0,243.7 387.0,235.8 388.0,212.3 389.0,217.8 390.0,233.8 391.0,241.6 392.0,243.5 393.0,238.5 394.0,232.7 395.0,237.3 396.0,242.8 397.0,244.2 398.0,244.6 399.0,244.7 400.0,245.1 401.0,241.9 402.0,226.0 403.0,217.2 404.0,231.5 405.0,240.1 406.0,242.9 407.0,237.0 408.0,221.7 409.0,224.9 410.0,235.9 411.0,242.7 412.0,243.6 413.0,244.2 414.0,244.8 415.0,244.4 416.0,242.1 417.0,236.2 418.0,236.5 419.0,241.7 420.0,243.9 421.0,243.9 422.0,236.0 423.0,213.3 424.0,219.2 425.0,234.4 426.0,240.2 427.0,237.7 428.0,232.8 429.0,238.4 430.0,242.7 431.0,244.4 432.0,244.1 433.0,244.5 434.0,244.8 435.0,244.1 436.0,236.2 437.0,214.6 438.0,219.5 439.0,234.0 440.0,242.0 441.0,244.1 442.0,239.5 443.0,224.8 444.0,227.7 445.0,238.2 446.0,243.0 447.0,244.9 448.0,244.9 449.0,245.3 450.0,243.9 451.0,236.9 452.0,231.6 453.0,238.8 454.0,243.0 455.0,244.3 456.0,241.1 457.0,224.6 458.0,215.7 459.0,231.3 460.0,239.3 461.0,242.4 462.0,240.2 463.0,237.8 464.0,241.3 465.0,243.1 466.0,244.6 467.0,244.4 468.0,245.1 469.0,245.0 470.0,243.3 471.0,228.3 472.0,206.4 473.0,221.3 474.0,235.2 475.0,242.3 476.0,241.5 477.0,228.0 478.0,224.6 479.0,235.1 480.0,241.5 481.0,243.6 482.0,245.0 483.0,244.4 484.0,244.3 485.0,241.8 486.0,231.0 487.0,233.4 488.0,239.8 489.0,243.2 490.0,242.7 491.0,228.3 492.0,211.3 493.0,226.5 494.0,245.0 495.0,244.0 496.0,245.1 497.0,248.4 498.0,252.6 499.0,258.3 500.0,265.1 501.0,270.5 502.0,275.5 503.0,278.7 504.0,278.0 505.0,275.4 506.0,262.0 507.0,254.9 508.0,266.9 509.0,274.0 510.0,276.4 511.0,271.9 512.0,257.7 513.0,261.3 514.0,271.4 515.0,275.9 516.0,278.2 517.0,277.8 518.0,277.9 519.0,276.7 520.0,269.3 521.0,260.1 522.0,268.9 523.0,274.4 524.0,277.1 525.0,275.6 526.0,261.8 527.0,249.3 528.0,263.8 529.0,272.8 530.0,276.8 531.0,277.8 532.0,278.9 533.0,278.4 534.0,278.3 535.0,279.1 536.0,277.6 537.0,278.0 538.0,278.5 539.0,276.3 540.0,263.0 541.0,234.6 542.0,245.2 543.0,264.9 544.0,273.8 545.0,275.8 546.0,266.4 547.0,258.1 548.0,268.8 549.0,274.4 550.0,276.6 551.0,277.9 552.0,277.7 553.0,277.5 554.0,275.8 555.0,264.1 556.0,257.6 557.0,268.3 558.0,273.7 559.0,276.4 560.0,269.1 561.0,247.7 562.0,252.5 563.0,268.1 564.0,275.1 565.0,276.8 566.0,274.1 567.0,271.3 568.0,274.7 569.0,276.4 570.0,277.5 571.0,278.2 572.0,278.3 573.0,278.5 574.0,278.0 575.0,269.5 576.0,246.4 577.0,251.8 578.0,266.6 579.0,274.9 580.0,274.6 581.0,260.4 582.0,256.6 583.0,268.0 584.0,274.6 585.0,277.7 586.0,278.6 587.0,278.1 588.0,278.9 589.0,271.7 590.0,256.9 591.0,259.5 592.0,270.3 593.0,275.6 594.0,276.7 595.0,269.2 596.0,247.8 597.0,252.1 598.0,267.2 599.0,274.5 600.0,277.3 601.0,278.1 602.0,277.8 603.0,277.3 604.0,273.9 605.0,270.2 606.0,273.9 607.0,276.9 608.0,277.2 609.0,275.7 610.0,258.0 611.0,231.8 612.0,250.5 613.0,267.0 614.0,274.8 615.0,271.0 616.0,257.3 617.0,262.8 618.0,272.0 619.0,276.7 620.0,278.2 621.0,277.8 622.0,278.0 623.0,277.2 624.0,272.8 625.0,258.7 626.0,262.3 627.0,270.6 628.0,276.6 629.0,275.7 630.0,264.3 631.0,252.3 632.0,264.3 633.0,273.1 634.0,277.1 635.0,277.7 636.0,278.2 637.0,278.5 638.0,277.9 639.0,274.4 640.0,272.0 641.0,274.9 642.0,276.1 643.0,277.5 644.0,269.0 645.0,245.0 646.0,251.0 647.0,267.4 648.0,274.7 649.0,276.7 650.0,266.8 651.0,255.2 652.0,266.3 653.0,272.9 654.0,276.3 655.0,277.5 656.0,278.4 657.0,278.1 658.0,275.2 659.0,262.9 660.0,258.9 661.0,270.2 662.0,275.4 663.0,277.0 664.0,268.8 665.0,249.6 666.0,256.1 667.0,269.6 668.0,275.1 669.0,277.4 670.0,278.1 671.0,277.5 672.0,278.1 673.0,273.5 674.0,268.5 675.0,271.9 676.0,276.6 677.0,278.0 678.0,276.3 679.0,259.7 680.0,240.8 681.0,257.5 682.0,270.0 683.0,275.5 684.0,271.8 685.0,261.6 686.0,265.7 687.0,273.0 688.0,277.5 689.0,277.7 690.0,277.8 691.0,278.1 692.0,276.3 693.0,263.4 694.0,249.1 695.0,261.9 696.0,272.3 697.0,276.3 698.0,277.2 699.0,270.7 700.0,252.9 701.0,256.7 702.0,268.4 703.0,274.9 704.0,277.5 705.0,278.3 706.0,277.8 707.0,277.2 708.0,272.4 709.0,268.8 710.0,272.8 711.0,277.2 712.0,277.6 713.0,275.6 714.0,258.5 715.0,244.6 716.0,261.0 717.0,272.8 718.0,275.4 719.0,268.0 720.0,255.8 721.0,265.1 722.0,273.3 723.0,275.8 724.0,278.3 725.0,278.3 726.0,278.7 727.0,276.2 728.0,263.2 729.0,252.2 730.0,264.9 731.0,273.4 732.0,276.6 733.0,275.7 734.0,262.4 735.0,246.7 736.0,260.4 737.0,272.0 738.0,276.3 739.0,278.1 740.0,278.3 741.0,277.5 742.0,275.8 743.0,266.9 744.0,266.8 745.0,273.4 746.0,276.8 747.0,277.9 748.0,274.1 749.0,255.2 750.0,253.2 751.0,266.3 752.0,273.9 753.0,276.1 754.0,268.2 755.0,264.4 756.0,270.6 757.0,275.2 758.0,277.3 759.0,278.2 760.0,277.5 761.0,277.8 762.0,274.9 763.0,258.0 764.0,244.0 765.0,260.1 766.0,272.0 767.0,275.5 768.0,271.5 769.0,257.1 770.0,259.9 771.0,270.6 772.0,275.9 773.0,277.6 774.0,277.8 775.0,278.7 776.0,278.4 777.0,274.4 778.0,263.9 779.0,265.4 780.0,272.3 781.0,276.9 782.0,275.3 783.0,261.0 784.0,244.1 785.0,260.1 786.0,271.5 787.0,275.7 788.0,277.4 789.0,272.8 790.0,270.8 791.0,274.5 792.0,277.2 793.0,277.6 794.0,278.0 795.0,277.9 796.0,277.0 797.0,272.8 798.0,249.0 799.0,241.9 800.0,260.1 801.0,272.3 802.0,275.2 803.0,269.1 804.0,257.2 805.0,265.3 806.0,273.1 807.0,276.8 808.0,277.5 809.0,278.1 810.0,277.8 811.0,277.5 812.0,269.6 813.0,256.4 814.0,263.1 815.0,272.4 816.0,276.3 817.0,276.3 818.0,261.9 819.0,241.8 820.0,256.4 821.0,269.2 822.0,275.9 823.0,276.3 824.0,272.7 825.0,272.9 826.0,275.0 827.0,277.0 828.0,277.9 829.0,278.0 830.0,278.7 831.0,277.5 832.0,269.6 833.0,244.7 834.0,245.9 835.0,264.5 836.0,273.3 837.0,274.1 838.0,261.1 839.0,257.6 840.0,268.4 841.0,274.9 842.0,277.3 843.0,277.5 844.0,277.3 845.0,278.7 846.0,274.8 847.0,259.3 848.0,250.5 849.0,264.6 850.0,273.3 851.0,276.3 852.0,269.6 853.0,249.8 854.0,254.8 855.0,268.3 856.0,274.8 857.0,277.2 858.0,277.3 859.0,278.6 860.0,278.4 861.0,275.3 862.0,271.1 863.0,274.1 864.0,276.5 865.0,278.0 866.0,267.6 867.0,240.6 868.0,247.1 869.0,265.0 870.0,273.9 871.0,276.6 872.0,273.9 873.0,260.9 874.0,261.0 875.0,270.0 876.0,275.7 877.0,277.5 878.0,278.5 879.0,278.1 880.0,277.0 881.0,270.6 882.0,252.4 883.0,260.1 884.0,269.9 885.0,275.4 886.0,275.7 887.0,264.0 888.0,253.5 889.0,266.2 890.0,273.2 891.0,276.7 892.0,277.9 893.0,277.6 894.0,278.8 895.0,276.8 896.0,272.6 897.0,272.4 898.0,275.5 899.0,278.0 900.0,277.5 901.0,271.2 902.0,246.6 903.0,243.6 904.0,262.0 905.0,272.7 906.0,275.6 907.0,273.3 908.0,265.5 909.0,269.0 910.0,275.3 911.0,276.7 912.0,278.0 913.0,277.9 914.0,278.3 915.0,275.8 916.0,263.9 917.0,254.0 918.0,265.7 919.0,274.2 920.0,276.4 921.0,275.1 922.0,258.7 923.0,246.4 924.0,261.2 925.0,272.2 926.0,276.4 927.0,277.4 928.0,277.8 929.0,277.4 930.0,275.0 931.0,268.9 932.0,271.3 933.0,275.9 934.0,276.9 935.0,278.0 936.0,272.1 937.0,249.0 938.0,246.9 939.0,264.0 940.0,274.3 941.0,276.6 942.0,271.8 943.0,261.1 944.0,266.5 945.0,273.7 946.0,276.8 947.0,277.8 948.0,277.7 949.0,277.5 950.0,273.1 951.0,255.6 952.0,253.2 953.0,267.1 954.0,274.4 955.0,276.2 956.0,269.1 957.0,254.7 958.0,262.8 959.0,272.0 960.0,276.1 961.0,277.4 962.0,278.4 963.0,278.1 964.0,277.1 965.0,271.0 966.0,264.6 967.0,271.9 968.0,276.1 969.0,277.3 970.0,274.7 971.0,259.3 972.0,245.1 973.0,261.7 974.0,272.1 975.0,276.3 976.0,275.4 977.0,268.1 978.0,268.8 979.0,274.1 980.0,277.2 981.0,277.6 982.0,278.1 983.0,278.0 984.0,276.8 985.0,266.8 986.0,244.2 987.0,252.5 988.0,268.0 989.0,275.4 990.0,276.5 991.0,267.8 992.0,250.1 993.0,259.5 994.0,270.7 995.0,275.7 996.0,277.3 997.0,277.9 998.0,278.0 999.0,276.6 1000.0,268.0 1001.0,263.0 1002.0,270.8 1003.0,275.9 1004.0,277.4 1005.0,274.6 1006.0,256.5 1007.0,241.5 1008.0,258.9 1009.0,270.9 1010.0,276.4 1011.0,275.1 1012.0,270.0 1013.0,270.9 1014.0,274.6 1015.0,277.0 1016.0,277.6 1017.0,278.4 1018.0,278.3 1019.0,277.2 1020.0,265.1 1021.0,238.7 1022.0,249.3 1023.0,266.5 1024.0,273.7 1025.0,270.7 1026.0,254.3 1027.0,258.4 1028.0,270.1 1029.0,275.4 1030.0,278.1 1031.0,277.7 1032.0,277.7 1033.0,278.3 1034.0,275.4 1035.0,264.3 1036.0,262.6 1037.0,270.8 1038.0,276.2 1039.0,277.1 1040.0,270.0 1041.0,250.9 1042.0,255.6 1043.0,268.3 1044.0,275.4 1045.0,277.5 1046.0,274.4 1047.0,271.1 1048.0,274.0 1049.0,276.9 1050.0,278.1 1051.0,278.0 1052.0,278.2 1053.0,278.0 1054.0,274.2 1055.0,253.1 1056.0,242.1 1057.0,259.9 1058.0,272.0 1059.0,275.7 1060.0,267.2 1061.0,251.7 1062.0,260.8 1063.0,271.5 1064.0,276.6 1065.0,277.4 1066.0,277.4 1067.0,277.9 1068.0,277.0 1069.0,269.1 1070.0,254.1 1071.0,261.7 1072.0,272.1 1073.0,276.6 1074.0,274.1 1075.0,253.9 1076.0,243.2 1077.0,261.1 1078.0,272.4 1079.0,276.8 1080.0,277.6 1081.0,278.1 1082.0,278.3 1083.0,276.0 1084.0,273.1 1085.0,274.8 1086.0,276.7 1087.0,277.3 1088.0,277.4 1089.0,271.1 1090.0,251.7 1091.0,252.6 1092.0,267.0 1093.0,274.5 1094.0,276.3 1095.0,266.7 1096.0,256.5 1097.0,266.5 1098.0,273.4 1099.0,275.9 1100.0,278.4 1101.0,278.0 1102.0,277.2 1103.0,271.8 1104.0,255.6 1105.0,256.6 1106.0,269.4 1107.0,275.0 1108.0,277.6 1109.0,273.5 1110.0,257.9 1111.0,259.9 1112.0,270.7 1113.0,275.5 1114.0,277.4 1115.0,278.0 1116.0,277.8 1117.0,278.4 1118.0,276.6 1119.0,270.1 1120.0,269.8 1121.0,273.8 1122.0,276.5 1123.0,277.3 1124.0,270.4 1125.0,246.9 1126.0,248.4 1127.0,265.9 1128.0,274.0 1129.0,272.8 1130.0,262.6 1131.0,265.3 1132.0,272.9 1133.0,276.4 1134.0,277.9 1135.0,278.0 1136.0,278.1 1137.0,278.2 1138.0,276.1 1139.0,262.4 1140.0,250.3 1141.0,264.1 1142.0,272.9 1143.0,276.0 1144.0,271.5 1145.0,253.6 1146.0,254.6 1147.0,267.0 1148.0,275.4 1149.0,276.8 1150.0,278.5 1151.0,278.0 1152.0,275.0 1153.0,267.1 1154.0,266.9 1155.0,274.3 1156.0,276.7 1157.0,277.9 1158.0,274.2 1159.0,254.7 1160.0,243.7 1161.0,261.0 1162.0,272.4 1163.0,276.7 1164.0,274.8 1165.0,268.2 1166.0,270.6 1167.0,275.5 1168.0,277.3 1169.0,278.2 1170.0,278.2 1171.0,278.2 1172.0,278.4 1173.0,269.6 1174.0,244.1 1175.0,245.2 1176.0,263.9 1177.0,272.9 1178.0,275.8 1179.0,268.4 1180.0,255.8 1181.0,264.7 1182.0,272.8 1183.0,276.4 1184.0,278.2 1185.0,278.6 1186.0,277.8 1187.0,274.9 1188.0,262.1 1189.0,261.0 1190.0,269.8 1191.0,275.4 1192.0,277.8 1193.0,273.8 1194.0,254.5 1195.0,249.0 1196.0,264.2 1197.0,273.1 1198.0,276.4 1199.0,277.3 1200.0,276.4 1201.0,273.0 1202.0,276.0 1203.0,277.3 1204.0,278.3 1205.0,277.8 1206.0,278.3 1207.0,277.7 1208.0,270.2 1209.0,246.8 1210.0,248.6 1211.0,264.6 1212.0,273.4 1213.0,272.4 1214.0,261.2 1215.0,262.4 1216.0,270.3 1217.0,275.6 1218.0,278.3 1219.0,277.9 1220.0,278.2 1221.0,278.3 1222.0,273.6 1223.0,258.4 1224.0,260.3 1225.0,270.1 1226.0,275.9 1227.0,277.8 1228.0,271.8 1229.0,253.4 1230.0,251.6 1231.0,266.2 1232.0,274.2 1233.0,277.5 1234.0,277.8 1235.0,277.9 1236.0,277.1 1237.0,273.0 1238.0,273.8 1239.0,276.0 1240.0,278.3 1241.0,278.1 1242.0,276.2 1243.0,262.9 1244.0,236.4 1245.0,251.5 1246.0,267.5 1247.0,274.6 1248.0,272.8 1249.0,260.8 1250.0,262.2 1251.0,271.8 1252.0,275.4 1253.0,277.4 1254.0,277.8 1255.0,278.8 1256.0,277.7 1257.0,272.5 1258.0,254.5 1259.0,255.4 1260.0,268.8 1261.0,275.0 1262.0,275.7 1263.0,263.1 1264.0,242.8 1265.0,256.9 1266.0,270.4 1267.0,276.1 1268.0,277.5 1269.0,278.8 1270.0,278.0 1271.0,276.4 1272.0,271.7 1273.0,272.7 1274.0,275.0 1275.0,276.6 1276.0,277.9 1277.0,269.0 1278.0,243.6 1279.0,245.5 1280.0,264.3 1281.0,273.1 1282.0,276.5 1283.0,269.2 1284.0,254.8 1285.0,262.7 1286.0,272.2 1287.0,276.2 1288.0,277.8 1289.0,278.0 1290.0,278.5 1291.0,278.0 1292.0,270.6 1293.0,254.8 1294.0,260.0 1295.0,269.9 1296.0,275.3 1297.0,271.2 1298.0,254.8 1299.0,255.7 1300.0,268.8 1301.0,274.7 1302.0,277.3 1303.0,278.3 1304.0,276.4 1305.0,273.3 1306.0,273.3 1307.0,275.8 1308.0,277.0 1309.0,277.5 1310.0,278.2 1311.0,277.9 1312.0,271.4 1313.0,246.2 1314.0,242.3 1315.0,262.4 1316.0,272.1 1317.0,275.2 1318.0,266.8 1319.0,261.1 1320.0,270.1 1321.0,275.6 1322.0,276.8 1323.0,278.5 1324.0,278.5 1325.0,277.8 1326.0,273.5 1327.0,258.9 1328.0,257.5 1329.0,267.9 1330.0,275.0 1331.0,277.3 1332.0,272.7 1333.0,256.5 1334.0,259.1 1335.0,269.8 1336.0,275.1 1337.0,277.3 1338.0,278.1 1339.0,278.2 1340.0,276.9 1341.0,272.5 1342.0,272.7 1343.0,275.8 1344.0,277.1 1345.0,278.1 1346.0,275.9 1347.0,258.7 1348.0,245.0 1349.0,260.6 1350.0,271.5 1351.0,275.2 1352.0,269.4 1353.0,265.7 1354.0,271.7 1355.0,275.7 1356.0,277.5 1357.0,278.0 1358.0,277.7 1359.0,278.0 1360.0,277.8 1361.0,273.6 1362.0,255.2 1363.0,253.0 1364.0,266.8 1365.0,274.7 1366.0,276.7 1367.0,266.4 1368.0,248.0 1369.0,258.2 1370.0,270.6 1371.0,275.9 1372.0,277.6 1373.0,277.8 1374.0,278.1 1375.0,277.6 1376.0,271.5 1377.0,264.8 1378.0,269.9 1379.0,275.6 1380.0,276.5 1381.0,272.7 1382.0,253.7 1383.0,252.7 1384.0,266.1 1385.0,274.5 1386.0,276.6 1387.0,272.8 1388.0,269.5 1389.0,273.8 1390.0,276.5 1391.0,277.1 1392.0,278.2 1393.0,278.7 1394.0,277.9 1395.0,275.3 1396.0,260.3 1397.0,240.2 1398.0,257.9 1399.0,271.0 1400.0,274.8 1401.0,268.4 1402.0,254.6 1403.0,263.0 1404.0,272.3 1405.0,276.2 1406.0,277.5 1407.0,277.7 1408.0,277.7 1409.0,277.9 1410.0,275.7 1411.0,266.4 1412.0,263.7 1413.0,271.0 1414.0,275.2 1415.0,276.5 1416.0,270.2 1417.0,251.5 1418.0,259.2 1419.0,269.4 1420.0,274.7 1421.0,275.7 1422.0,271.1 1423.0,272.5 1424.0,275.6 1425.0,277.6 1426.0,277.8 1427.0,278.1 1428.0,278.1 1429.0,277.8 1430.0,271.4 1431.0,249.3 1432.0,246.9 1433.0,263.8 1434.0,273.1 1435.0,275.8 1436.0,268.7 1437.0,253.1 1438.0,261.6 1439.0,271.9 1440.0,276.7 1441.0,277.9 1442.0,279.1 1443.0,278.3 1444.0,277.5 1445.0,268.5 1446.0,258.6 1447.0,266.7 1448.0,273.4 1449.0,276.1 1450.0,277.2 1451.0,269.3 1452.0,250.5 1453.0,258.3 1454.0,269.9 1455.0,275.8 1456.0,276.3 1457.0,272.6 1458.0,273.7 1459.0,276.0 1460.0,277.4 1461.0,278.0 1462.0,278.0 1463.0,278.4 1464.0,277.9 1465.0,271.0 1466.0,245.0 1467.0,240.9 1468.0,261.2 1469.0,272.2 1470.0,276.1 1471.0,270.0 1472.0,255.6 1473.0,263.6 1474.0,271.6 1475.0,275.7 1476.0,278.0 1477.0,277.6 1478.0,277.8 1479.0,275.4 1480.0,263.5 1481.0,258.8 1482.0,268.8 1483.0,274.7 1484.0,277.3 1485.0,273.5 1486.0,254.4 1487.0,248.3 1488.0,264.3 1489.0,272.8 1490.0,276.6 1491.0,278.0 1492.0,278.0 1493.0,277.4 1494.0,274.8 1495.0,271.5 1496.0,274.3 1497.0,277.1 1498.0,277.4 1499.0,275.6 1500.0,255.8 1501.0,233.0 1502.0,253.7 1503.0,268.4 1504.0,275.0 1505.0,273.6 1506.0,263.2 1507.0,262.8 1508.0,270.9 1509.0,274.8 1510.0,277.3 1511.0,278.1 1512.0,278.1 1513.0,277.5 1514.0,271.9 1515.0,255.3 1516.0,259.7 1517.0,270.9 1518.0,276.1 1519.0,276.8 1520.0,268.9 1521.0,250.0 1522.0,257.2 1523.0,269.3 1524.0,275.9 1525.0,277.3 1526.0,278.3 1527.0,278.1 1528.0,278.2 1529.0,274.1 1530.0,269.4 1531.0,273.1 1532.0,276.6 1533.0,277.1 1534.0,275.4 1535.0,258.2 1536.0,237.0 1537.0,255.3 1538.0,269.5 1539.0,276.2 1540.0,274.7 1541.0,265.8 1542.0,265.4 1543.0,271.9 1544.0,276.0 1545.0,277.3 1546.0,278.7 1547.0,278.3 1548.0,277.4 1549.0,270.3 1550.0,248.8 1551.0,253.0 1552.0,268.4 1553.0,274.2 1554.0,275.3 1555.0,265.3 1556.0,252.4 1557.0,264.2 1558.0,272.7 1559.0,277.5 1560.0,277.5 1561.0,278.7 1562.0,278.0 1563.0,273.9 1564.0,262.3 1565.0,265.6 1566.0,273.0 1567.0,275.9 1568.0,276.2 1569.0,267.7 1570.0,246.7 1571.0,254.6 1572.0,268.5 1573.0,275.1 1574.0,276.8 1575.0,272.2 1576.0,266.7 1577.0,272.3 1578.0,275.6 1579.0,277.2 1580.0,277.4 1581.0,278.4 1582.0,277.9 1583.0,276.3 1584.0,258.8 1585.0,239.4 1586.0,257.2 1587.0,270.2 1588.0,274.7 1589.0,274.1 1590.0,259.7 1591.0,258.8 1592.0,269.0 1593.0,276.2 1594.0,277.9 1595.0,278.1 1596.0,277.5 1597.0,277.3 1598.0,270.3 1599.0,261.5 1600.0,268.6 1601.0,275.3 1602.0,277.1 1603.0,277.2 1604.0,267.7 1605.0,245.8 1606.0,254.6 1607.0,268.2 1608.0,274.8 1609.0,276.4 1610.0,274.9 1611.0,272.3 1612.0,275.4 1613.0,277.2 1614.0,278.4 1615.0,277.6 1616.0,279.1 1617.0,278.0 1618.0,275.8 1619.0,260.0 1620.0,242.4 1621.0,257.5 1622.0,270.8 1623.0,275.6 1624.0,268.7 1625.0,257.2 1626.0,264.9 1627.0,273.3 1628.0,277.1 1629.0,278.2 1630.0,278.2 1631.0,278.4 1632.0,277.8 1633.0,272.9 1634.0,265.6 1635.0,269.7 1636.0,274.6 1637.0,277.6 1638.0,274.4 1639.0,257.5 1640.0,248.7 1641.0,263.3 1642.0,273.1 1643.0,276.6 1644.0,277.4 1645.0,275.4 1646.0,272.3 1647.0,275.4 1648.0,276.7 1649.0,278.0 1650.0,277.5 1651.0,277.6 1652.0,277.5 1653.0,271.2 1654.0,248.4 1655.0,250.6 1656.0,265.3 1657.0,274.1 1658.0,275.7 1659.0,266.4 1660.0,259.1 1661.0,268.2 1662.0,274.4 1663.0,276.7 1664.0,277.0 1665.0,278.4 1666.0,277.8 1667.0,277.1 1668.0,268.1 1669.0,257.1 1670.0,266.7 1671.0,274.4 1672.0,276.2 1673.0,269.1 1674.0,254.2 1675.0,260.5 1676.0,270.3 1677.0,275.7 1678.0,277.8 1679.0,277.8"/>
<g font-family="Liberation Serif, 'Times New Roman', serif" fill="#000">
<g transform="matrix(1.10714 0 0 1.04395 -11.643 -37.728)"><text x="132.50" y="785.42" font-size="69" text-anchor="middle">2</text></g>
<g transform="matrix(0.99430 0 0 1.04951 -0.540 -33.757)"><text x="132.50" y="657.84" font-size="69" text-anchor="middle">4</text></g>
<g transform="matrix(1.01449 0 0 1.07094 -3.535 -36.030)"><text x="132.50" y="530.26" font-size="69" text-anchor="middle">6</text></g>
<g transform="matrix(0.94501 0 0 1.04892 7.089 -16.129)"><text x="132.50" y="402.68" font-size="69" text-anchor="middle">8</text></g>
<g transform="matrix(0.95000 0 0 1.04428 4.200 -8.236)"><text x="132.50" y="275.10" font-size="69" text-anchor="middle">10</text></g>
<g transform="matrix(0.96610 0 0 1.04395 3.525 -6.549)"><text x="132.50" y="147.52" font-size="69" text-anchor="middle">12</text></g>
<g transform="matrix(1.03532 0 0 1.06661 -7.298 -64.132)"><text x="198.50" y="975.00" font-size="69" text-anchor="middle">0</text></g>
<g transform="matrix(1.01006 0 0 1.06661 -5.183 -64.132)"><text x="495.30" y="975.00" font-size="69" text-anchor="middle">0.2</text></g>
<g transform="matrix(0.97081 0 0 1.04022 25.947 -38.028)"><text x="792.10" y="975.00" font-size="69" text-anchor="middle">0.4</text></g>
<g transform="matrix(0.97811 0 0 1.08001 22.344 -78.008)"><text x="1088.90" y="975.00" font-size="69" text-anchor="middle">0.6</text></g>
<g transform="matrix(0.98527 0 0 1.08001 22.207 -78.008)"><text x="1385.70" y="975.00" font-size="69" text-anchor="middle">0.8</text></g>
<g transform="matrix(0.96130 0 0 1.03069 68.627 -30.528)"><text x="1682.50" y="975.00" font-size="69" text-anchor="middle">1</text></g>
<g transform="matrix(0.98535 0 0 1.00363 13.623 -3.645)"><text x="862.00" y="1053.50" font-size="69" text-anchor="middle">Time(sec)</text></g>
<g transform="matrix(1.00713 0 0 0.99029 -0.685 2.864)"><text x="58.00" y="448.00" font-size="69" text-anchor="middle" transform="rotate(-90 58 448)">Active power(kW)</text></g>
</g>
<rect x="707.4" y="563.4" width="912.3" height="227.1" fill="#fff" stroke="#000" stroke-width="4.6"/>
<line x1="724.2" y1="614.5" x2="802.4" y2="614.5" stroke="#00b0f0" stroke-width="9" stroke-linecap="round"/>
<line x1="726.9" y1="678" x2="804.0" y2="678" stroke="#595959" stroke-width="10" stroke-linecap="round"/>
<line x1="725.7" y1="744.4" x2="804.5" y2="744.4" stroke="#e46c0a" stroke-width="9" stroke-linecap="round"/>
<line x1="1202.6" y1="612.5" x2="1281.5" y2="612.5" stroke="#cd6aef" stroke-width="9" stroke-linecap="round"/>
<line x1="1203.1" y1="678.9" x2="1279.9" y2="678.9" stroke="#92d050" stroke-width="10" stroke-linecap="round"/>
<line x1="1203.9" y1="739.9" x2="1282.0" y2="739.9" stroke="#00ffff" stroke-width="10" stroke-linecap="round"/>
<g font-family="Liberation Serif, 'Times New Roman', serif" font-size="52.2" fill="#000" transform="scale(0.97 1)">
<text x="898.92 935.37 969.15 1001.85 1019.71 1056.03 1088.78 1124.16" y="633">AFC-VSG1</text>
<text x="898.92 935.37 969.15 1001.85 1019.71 1056.03 1088.78 1125.08" y="699">AFC-VSG2</text>
<text x="898.92 935.37 969.15 1001.85 1019.71 1056.03 1088.78 1123.63" y="765.7">AFC-VSG3</text>
<text x="1374.70 1402.43 1433.53 1467.78 1485.84 1522.37 1555.48 1590.14" y="633">PFC-VSG1</text>
<text x="1374.70 1402.43 1433.53 1467.78 1485.84 1522.37 1555.48 1591.16" y="699">PFC-VSG2</text>
<text x="1374.70 1402.43 1433.53 1467.78 1485.84 1522.37 1555.48 1589.92" y="765.8">PFC-VSG3</text>
</g>
</svg></body></html>
